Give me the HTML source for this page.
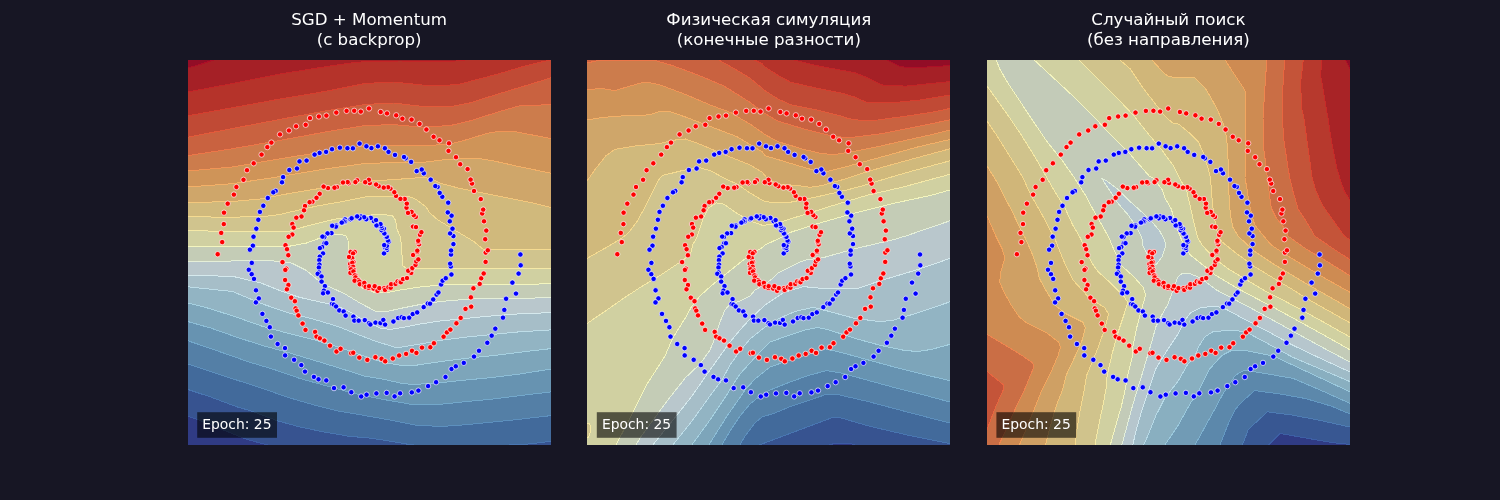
<!DOCTYPE html>
<html lang="ru"><head><meta charset="utf-8"><title>Spiral training comparison</title>
<style>html,body{margin:0;padding:0;background:#171624;overflow:hidden}svg{display:block;will-change:transform}</style></head>
<body>
<svg width="1500" height="500" viewBox="0 0 1500 500" font-family="'DejaVu Sans', 'Liberation Sans', sans-serif">
<clipPath id="c0"><rect x="188" y="60" width="363" height="385"/></clipPath>
<g clip-path="url(#c0)" shape-rendering="crispEdges">
<rect x="180" y="50" width="380" height="410" fill="#920d26"/>
<polygon points="174.6,71.9 188.0,68.0 200.0,64.5 213.5,60.0 226.8,55.6 570.0,55.6 570.0,470.0 170.0,470.0 170.0,71.9" fill="#a52026" stroke="#ae0f26" stroke-width="1.0" stroke-linejoin="round"/>
<polygon points="174.2,94.6 188.0,92.0 232.5,83.5 280.0,74.0 327.5,66.4 356.0,62.3 375.0,61.2 400.0,61.0 440.0,61.3 456.0,61.0 468.0,59.6 481.9,58.0 570.0,58.0 570.0,470.0 170.0,470.0 170.0,94.6" fill="#b5332a" stroke="#c42527" stroke-width="1.0" stroke-linejoin="round"/>
<polygon points="174.2,118.3 188.0,115.8 232.5,107.7 280.0,99.0 327.5,91.0 365.0,83.5 393.5,82.0 422.0,85.0 444.8,85.6 460.0,84.0 498.0,74.0 526.5,65.5 551.0,59.8 564.6,56.6 570.0,56.6 570.0,470.0 170.0,470.0 170.0,118.3" fill="#c04a35" stroke="#d63e2e" stroke-width="1.0" stroke-linejoin="round"/>
<polygon points="174.3,139.9 188.0,137.2 232.5,128.5 280.0,119.4 327.5,110.6 365.0,104.5 393.5,103.0 422.0,106.4 450.5,106.8 469.5,103.0 498.0,94.0 526.5,85.4 551.0,77.8 564.4,73.7 570.0,73.7 570.0,470.0 170.0,470.0 170.0,139.9" fill="#c96240" stroke="#e35a3a" stroke-width="1.0" stroke-linejoin="round"/>
<polygon points="174.2,157.7 188.0,155.6 232.5,148.7 280.0,140.4 327.5,131.6 365.0,125.5 393.5,124.6 422.0,127.2 450.5,125.5 469.5,121.0 498.0,112.0 520.8,105.4 551.0,104.8 565.0,104.5 570.0,104.5 570.0,470.0 170.0,470.0 170.0,157.7" fill="#cc7c4c" stroke="#ed7648" stroke-width="1.0" stroke-linejoin="round"/>
<polygon points="174.1,172.3 188.0,171.0 232.5,167.0 280.0,158.8 327.5,151.2 365.0,146.0 395.0,145.2 425.0,145.8 450.0,144.0 464.0,140.5 486.6,133.5 498.0,131.5 517.0,132.0 551.0,138.6 564.7,141.3 570.0,141.3 570.0,470.0 170.0,470.0 170.0,172.3" fill="#cf9458" stroke="#f19556" stroke-width="1.0" stroke-linejoin="round"/>
<polygon points="174.0,188.0 188.0,187.0 232.5,183.7 280.0,176.6 327.5,168.6 365.0,163.5 399.0,162.4 423.0,162.4 447.0,159.4 477.0,158.2 495.0,161.2 519.0,166.6 551.0,173.2 564.7,176.0 570.0,176.0 570.0,470.0 170.0,470.0 170.0,188.0" fill="#cfa66a" stroke="#f4b067" stroke-width="1.0" stroke-linejoin="round"/>
<polygon points="174.0,202.9 188.0,202.6 232.5,201.5 260.0,199.0 293.0,192.8 329.0,187.0 365.0,181.5 399.0,179.2 423.0,177.4 431.4,178.6 441.0,183.4 459.0,188.2 495.0,195.4 531.0,202.6 551.0,207.5 564.6,210.8 570.0,210.8 570.0,470.0 170.0,470.0 170.0,202.9" fill="#d0b97c" stroke="#f4c77c" stroke-width="1.0" stroke-linejoin="round"/>
<polygon points="174.0,216.7 188.0,216.8 232.5,217.2 265.0,216.4 280.0,214.5 293.0,211.4 317.0,206.0 341.0,201.8 366.0,196.8 390.0,196.0 408.0,196.0 416.4,199.6 426.0,206.8 429.6,212.8 438.0,220.0 450.0,227.2 462.0,234.4 474.0,241.6 483.7,249.7 551.0,249.7 565.0,249.7 570.0,249.7 570.0,470.0 170.0,470.0 170.0,216.7" fill="#d0c48e" stroke="#f5db91" stroke-width="1.0" stroke-linejoin="round"/>
<polygon points="174.0,230.3 188.0,230.6 232.5,231.5 270.0,231.8 287.0,231.8 299.0,228.2 317.0,223.4 335.0,219.2 353.0,216.4 365.0,215.2 384.0,214.6 392.4,215.8 395.4,220.0 397.2,229.6 400.8,238.0 401.5,249.7 403.0,265.9 406.8,268.7 551.0,268.3 565.0,268.3 570.0,268.3 570.0,470.0 170.0,470.0 170.0,230.3" fill="#d0d0a1" stroke="#f5e9a7" stroke-width="1.0" stroke-linejoin="round"/>
<polygon points="174.0,246.9 188.0,246.9 285.7,246.9 306.6,243.0 321.8,237.4 337.0,234.1 345.6,235.5 348.0,240.2 348.8,259.2 352.2,272.5 362.0,288.0 375.0,292.5 385.0,293.0 400.0,290.0 420.0,287.0 441.0,284.9 551.0,283.9 565.0,283.8 570.0,283.8 570.0,470.0 170.0,470.0 170.0,246.9" fill="#c4ccb6" stroke="#f3f5be" stroke-width="1.0" stroke-linejoin="round"/>
<polygon points="174.0,262.3 188.0,262.0 266.7,260.2 291.4,263.0 306.6,270.6 318.0,280.1 330.0,287.0 345.0,294.0 360.0,303.0 375.0,311.0 385.0,312.0 400.0,308.5 420.0,304.5 440.0,301.5 470.0,299.0 493.0,298.3 551.0,297.9 565.0,297.8 570.0,297.8 570.0,470.0 170.0,470.0 170.0,262.3" fill="#b9c7cc" stroke="#e5efd8" stroke-width="1.0" stroke-linejoin="round"/>
<polygon points="174.0,275.1 188.0,275.4 232.5,276.3 261.0,283.0 280.0,290.6 299.0,297.2 320.0,302.0 335.0,305.0 350.0,312.0 365.0,321.0 380.0,328.0 390.0,329.5 405.0,327.0 420.0,324.0 440.0,321.0 470.0,318.0 493.0,315.8 518.6,313.9 551.0,312.6 565.0,312.0 570.0,312.0 570.0,470.0 170.0,470.0 170.0,275.1" fill="#a6bec8" stroke="#d5e9ed" stroke-width="1.0" stroke-linejoin="round"/>
<polygon points="174.1,285.3 188.0,286.8 232.5,291.5 261.8,303.7 287.4,312.6 313.0,319.0 338.6,326.7 357.8,334.4 375.0,341.0 397.0,347.9 416.2,344.7 441.8,340.2 467.4,337.0 493.0,334.4 518.6,331.9 551.0,329.9 565.0,329.0 570.0,329.0 570.0,470.0 170.0,470.0 170.0,285.3" fill="#92b4c3" stroke="#bedde8" stroke-width="1.0" stroke-linejoin="round"/>
<polygon points="174.4,299.5 188.0,303.0 210.6,308.8 236.2,317.1 261.8,326.1 287.4,333.1 313.0,339.5 338.6,347.2 364.2,356.2 384.2,362.6 403.4,365.8 416.2,365.2 441.8,361.4 467.4,358.2 493.0,355.6 518.6,352.4 551.0,348.6 564.9,347.0 570.0,347.0 570.0,470.0 170.0,470.0 170.0,299.5" fill="#7da5ba" stroke="#a6d1e1" stroke-width="1.0" stroke-linejoin="round"/>
<polygon points="174.5,317.8 188.0,321.6 210.6,328.0 236.2,337.0 261.8,345.3 287.4,352.3 313.0,360.0 338.6,367.8 364.2,376.0 384.2,379.3 403.4,383.8 416.2,384.4 441.8,382.5 467.4,379.9 493.0,377.4 518.6,374.2 551.0,369.0 564.8,366.8 570.0,366.8 570.0,470.0 170.0,470.0 170.0,317.8" fill="#6793b1" stroke="#8dbed7" stroke-width="1.0" stroke-linejoin="round"/>
<polygon points="174.7,336.3 188.0,340.8 210.6,348.5 236.2,357.5 249.0,362.0 274.6,369.7 300.2,378.6 325.8,385.7 351.5,392.7 365.0,395.8 384.2,399.6 409.8,404.1 441.8,404.1 467.4,401.5 493.0,399.0 518.6,395.8 551.0,391.9 564.9,390.2 570.0,390.2 570.0,470.0 170.0,470.0 170.0,336.3" fill="#547fa6" stroke="#73a8cb" stroke-width="1.0" stroke-linejoin="round"/>
<polygon points="174.7,359.4 188.0,363.9 210.6,371.6 236.2,379.9 261.8,388.2 287.4,397.2 313.0,404.7 338.6,411.1 365.0,415.6 390.6,420.1 416.2,425.2 441.8,426.5 467.4,424.6 493.0,422.0 518.6,419.4 551.0,415.6 564.9,414.0 570.0,414.0 570.0,470.0 170.0,470.0 170.0,359.4" fill="#426a9b" stroke="#5d90be" stroke-width="1.0" stroke-linejoin="round"/>
<polygon points="174.7,385.1 188.0,389.5 210.6,397.0 236.2,406.6 251.6,411.1 277.2,420.7 300.2,427.1 325.8,432.3 351.5,436.7 365.0,437.4 390.6,441.2 411.1,444.8 460.0,448.0 512.2,444.8 531.5,443.8 551.0,441.2 564.9,439.3 570.0,439.3 570.0,470.0 170.0,470.0 170.0,385.1" fill="#375390" stroke="#4976b1" stroke-width="1.0" stroke-linejoin="round"/>
<polygon points="174.8,411.6 188.0,416.2 197.2,419.4 246.5,439.3 267.0,444.8 280.5,448.4 570.0,448.4 570.0,470.0 170.0,470.0 170.0,411.6" fill="#303b84" stroke="#3c5ba3" stroke-width="1.0" stroke-linejoin="round"/>
</g>
<clipPath id="c1"><rect x="587" y="60" width="363" height="385"/></clipPath>
<g clip-path="url(#c1)" shape-rendering="crispEdges">
<rect x="575" y="50" width="390" height="410" fill="#920d26"/>
<polygon points="874.0,53.8 886.6,60.0 900.7,66.9 918.6,67.5 950.0,65.6 964.0,64.8 965.0,64.8 965.0,470.0 570.0,470.0 570.0,45.0 874.0,45.0" fill="#a52026" stroke="#ae0f26" stroke-width="1.0" stroke-linejoin="round"/>
<polygon points="780.8,56.5 794.4,60.0 816.2,65.6 854.6,72.6 867.4,77.8 882.8,85.2 905.8,86.1 931.5,83.5 950.0,81.6 963.9,80.2 965.0,80.2 965.0,470.0 570.0,470.0 570.0,45.0 780.8,45.0" fill="#b5332a" stroke="#c42527" stroke-width="1.0" stroke-linejoin="round"/>
<polygon points="742.1,53.7 754.6,60.0 762.0,63.7 765.0,66.9 777.8,75.2 790.6,82.2 816.2,88.0 841.8,93.1 854.6,97.0 867.4,102.7 893.0,102.7 918.6,100.2 950.0,95.0 963.8,92.7 965.0,92.7 965.0,470.0 570.0,470.0 570.0,45.0 742.1,45.0" fill="#c04a35" stroke="#d63e2e" stroke-width="1.0" stroke-linejoin="round"/>
<polygon points="706.5,53.2 718.7,60.0 736.6,70.0 749.5,77.8 762.0,88.0 765.0,90.6 777.8,98.9 790.6,104.7 816.2,109.8 841.8,116.2 848.2,118.7 862.0,120.5 877.7,120.0 905.8,116.2 931.5,112.3 950.0,108.5 963.7,105.7 965.0,105.7 965.0,470.0 570.0,470.0 570.0,45.0 706.5,45.0" fill="#c96240" stroke="#e35a3a" stroke-width="1.0" stroke-linejoin="round"/>
<polygon points="573.3,66.0 587.0,63.0 596.0,61.0 602.0,60.2 655.0,60.4 672.6,65.6 698.0,75.0 724.0,86.0 749.5,102.0 765.0,113.6 777.8,121.0 803.4,128.8 829.0,135.2 841.8,137.1 854.6,137.1 880.2,133.9 905.8,128.8 931.5,123.7 950.0,119.8 963.7,116.9 965.0,116.9 965.0,470.0 570.0,470.0 570.0,66.0" fill="#cc7c4c" stroke="#ed7648" stroke-width="1.0" stroke-linejoin="round"/>
<polygon points="573.0,90.3 587.0,89.5 602.0,88.6 615.0,90.6 627.8,86.7 640.6,83.1 647.0,82.2 659.8,84.8 685.4,94.4 711.0,105.3 730.2,112.3 743.0,120.0 749.5,123.7 762.3,132.6 765.0,134.6 777.8,141.6 803.4,149.3 822.6,153.8 835.4,154.4 854.6,151.2 880.2,146.1 905.8,140.3 931.5,134.6 950.0,130.0 963.6,126.6 965.0,126.6 965.0,470.0 570.0,470.0 570.0,90.3" fill="#cf9458" stroke="#f19556" stroke-width="1.0" stroke-linejoin="round"/>
<polygon points="573.2,122.3 587.0,120.0 602.0,117.5 627.8,115.5 649.6,114.9 659.8,111.3 670.0,111.7 685.4,117.0 704.6,124.3 736.6,136.5 762.3,151.8 765.0,155.7 777.8,159.5 797.0,165.3 816.2,171.0 829.0,171.0 841.8,167.9 867.4,160.8 893.0,153.8 918.6,146.7 950.0,139.5 963.6,136.4 965.0,136.4 965.0,470.0 570.0,470.0 570.0,122.3" fill="#cfa66a" stroke="#f4b067" stroke-width="1.0" stroke-linejoin="round"/>
<polygon points="578.9,192.4 587.0,181.0 595.8,168.5 606.0,155.7 615.0,149.3 634.2,146.1 659.8,143.5 672.6,140.3 685.4,139.0 698.2,143.5 723.8,154.4 749.5,164.7 762.3,172.3 768.7,180.0 780.0,184.0 800.0,185.8 810.4,187.3 820.8,185.8 841.6,180.0 862.4,173.3 883.2,167.0 904.0,161.3 924.8,155.6 950.0,148.8 963.5,145.2 965.0,145.2 965.0,470.0 570.0,470.0 570.0,192.4" fill="#d0b97c" stroke="#f4c77c" stroke-width="1.0" stroke-linejoin="round"/>
<polygon points="574.8,265.3 587.0,258.4 608.6,246.2 618.9,240.0 627.8,233.6 636.8,222.0 644.5,208.0 650.9,195.2 657.3,182.4 658.5,180.0 662.4,175.5 685.4,169.8 698.2,167.2 711.0,171.0 727.7,180.0 736.6,183.7 749.5,192.6 762.3,200.3 765.0,201.6 777.8,202.9 790.6,202.2 816.2,197.0 846.8,190.0 862.4,185.8 883.2,179.5 904.0,173.3 924.8,167.6 950.0,160.8 963.5,157.2 965.0,157.2 965.0,470.0 570.0,470.0 570.0,265.3" fill="#d0c48e" stroke="#f5db91" stroke-width="1.0" stroke-linejoin="round"/>
<polygon points="575.4,331.4 587.0,323.5 608.6,308.8 624.0,298.0 640.6,287.2 659.8,275.7 682.9,260.3 690.5,253.9 693.1,243.7 695.7,240.0 698.2,233.6 703.4,218.3 708.5,208.0 716.2,202.9 723.8,204.2 736.6,213.1 749.5,220.8 762.3,225.3 773.0,224.4 790.6,218.9 829.0,206.7 867.4,195.2 904.0,186.8 924.8,181.1 950.0,174.3 963.5,170.7 965.0,170.7 965.0,470.0 570.0,470.0 570.0,331.4" fill="#d0d0a1" stroke="#f5e9a7" stroke-width="1.0" stroke-linejoin="round"/>
<polygon points="609.5,457.4 616.0,445.0 629.0,420.0 634.2,409.8 647.0,384.2 665.0,356.0 672.6,338.3 685.4,317.8 691.8,306.2 700.0,296.0 711.0,285.9 723.8,275.7 736.6,265.4 749.5,255.2 762.3,247.5 765.0,245.0 781.6,237.3 790.6,232.3 816.2,224.0 854.6,213.1 893.0,203.5 931.5,195.2 950.0,190.0 963.5,186.2 965.0,186.2 965.0,470.0 609.5,470.0" fill="#c4ccb6" stroke="#f3f5be" stroke-width="1.0" stroke-linejoin="round"/>
<polygon points="629.1,457.2 636.0,445.0 640.0,438.0 659.0,412.0 671.0,396.0 685.4,377.8 700.0,364.0 710.0,350.0 715.0,338.0 720.0,322.0 725.0,310.0 730.0,304.0 740.0,301.0 750.0,296.0 755.0,290.0 762.3,285.9 773.0,278.3 777.8,273.1 800.9,261.6 807.3,259.7 822.6,257.8 854.6,248.8 893.0,239.8 905.8,236.0 950.0,220.8 963.2,216.2 965.0,216.2 965.0,470.0 629.1,470.0" fill="#b9c7cc" stroke="#e5efd8" stroke-width="1.0" stroke-linejoin="round"/>
<polygon points="644.2,455.6 653.0,444.7 677.0,415.0 692.0,396.0 703.0,380.0 710.0,370.0 720.0,356.0 730.0,342.0 740.0,330.0 750.0,319.0 765.0,305.0 780.0,295.0 784.2,292.3 803.4,286.6 822.6,288.5 857.2,288.5 880.2,280.8 918.6,269.3 950.0,258.4 963.2,253.8 965.0,253.8 965.0,470.0 644.2,470.0" fill="#a6bec8" stroke="#d5e9ed" stroke-width="1.0" stroke-linejoin="round"/>
<polygon points="664.2,455.6 673.0,444.7 692.0,421.0 710.0,396.0 722.0,380.0 730.0,365.0 740.0,351.0 750.0,339.0 765.0,327.0 780.0,318.0 795.0,311.5 810.0,308.0 813.7,307.5 829.0,311.4 854.6,318.4 880.2,321.6 893.0,320.3 918.6,312.6 950.0,301.8 963.2,297.2 965.0,297.2 965.0,470.0 664.2,470.0" fill="#92b4c3" stroke="#bedde8" stroke-width="1.0" stroke-linejoin="round"/>
<polygon points="683.8,456.0 692.0,444.7 710.0,420.0 726.0,396.0 736.0,380.0 740.0,374.0 750.0,363.0 760.0,352.0 770.0,342.0 790.0,335.0 805.0,330.0 818.0,327.5 829.0,329.9 854.6,338.3 880.2,345.3 905.8,350.7 918.6,351.4 931.5,349.4 950.0,344.3 963.5,340.6 965.0,340.6 965.0,470.0 683.8,470.0" fill="#7da5ba" stroke="#a6d1e1" stroke-width="1.0" stroke-linejoin="round"/>
<polygon points="701.6,456.6 709.0,444.7 727.0,416.0 741.0,396.0 745.0,390.0 755.0,379.0 770.0,367.0 790.0,360.0 810.0,354.0 825.2,348.8 841.8,352.6 867.4,359.7 893.0,366.7 918.6,373.1 950.0,380.8 963.6,384.1 965.0,384.1 965.0,470.0 701.6,470.0" fill="#6793b1" stroke="#8dbed7" stroke-width="1.0" stroke-linejoin="round"/>
<polygon points="714.9,456.8 722.0,444.7 730.0,431.0 740.0,416.0 750.0,404.0 760.0,396.0 770.0,390.0 790.0,382.0 810.0,375.0 826.5,370.6 841.8,373.1 867.4,380.2 893.0,387.2 918.6,393.6 950.0,402.0 963.5,405.6 965.0,405.6 965.0,470.0 714.9,470.0" fill="#547fa6" stroke="#73a8cb" stroke-width="1.0" stroke-linejoin="round"/>
<polygon points="733.0,456.8 740.0,444.7 745.0,436.0 755.0,423.0 762.0,417.0 775.0,413.0 790.6,406.5 826.5,394.3 836.7,394.3 867.4,401.4 905.8,411.6 950.0,423.1 963.5,426.6 965.0,426.6 965.0,470.0 733.0,470.0" fill="#426a9b" stroke="#5d90be" stroke-width="1.0" stroke-linejoin="round"/>
<polygon points="746.9,449.6 760.0,444.7 770.0,441.0 797.0,430.8 832.9,417.4 839.3,417.4 867.4,425.7 905.8,434.7 950.0,443.6 963.7,446.4 965.0,446.4 965.0,470.0 746.9,470.0" fill="#375390" stroke="#4976b1" stroke-width="1.0" stroke-linejoin="round"/>
<polygon points="829.0,444.9 834.0,443.6 850.8,443.6 854.6,444.9 856.0,450.0 827.0,450.0" fill="#303b84" stroke="#3c5ba3" stroke-width="1.0" stroke-linejoin="round"/>
<polygon points="586.0,423.0 589.5,423.5 591.0,427.0 590.0,433.0 588.5,437.0 586.0,437.0" fill="#d0c48e" stroke="#f5e9a7" stroke-width="1.0" stroke-linejoin="round"/>
</g>
<clipPath id="c2"><rect x="987" y="60" width="363" height="385"/></clipPath>
<g clip-path="url(#c2)" shape-rendering="crispEdges">
<rect x="975" y="50" width="390" height="410" fill="#920d26"/>
<polygon points="1339.1,47.5 1345.5,60.0 1350.0,68.8 1356.4,81.3 1365.0,81.3 1365.0,470.0 970.0,470.0 970.0,45.0 1339.1,45.0" fill="#a82326" stroke="#af1026" stroke-width="1.0" stroke-linejoin="round"/>
<polygon points="1323.1,46.1 1321.9,60.0 1320.6,75.2 1325.0,100.8 1328.3,120.0 1331.5,141.6 1336.6,167.2 1339.8,178.0 1344.3,191.4 1350.0,200.3 1357.6,212.1 1365.0,212.1 1365.0,470.0 970.0,470.0 970.0,45.0 1323.1,45.0" fill="#b7392d" stroke="#c82a28" stroke-width="1.0" stroke-linejoin="round"/>
<polygon points="1305.0,46.1 1303.3,60.0 1300.7,81.6 1301.4,107.2 1303.9,118.0 1307.1,141.6 1312.2,178.0 1316.1,191.4 1322.5,205.4 1335.3,223.4 1344.3,236.0 1350.0,239.8 1361.6,247.6 1365.0,247.6 1365.0,470.0 970.0,470.0 970.0,45.0 1305.0,45.0" fill="#c45439" stroke="#da4631" stroke-width="1.0" stroke-linejoin="round"/>
<polygon points="1285.6,46.0 1284.7,60.0 1282.8,88.0 1282.2,118.0 1284.1,141.6 1287.9,167.2 1289.8,178.0 1293.0,191.4 1298.2,209.3 1305.8,220.8 1314.8,236.0 1331.5,247.5 1350.0,259.7 1361.7,267.4 1365.0,267.4 1365.0,470.0 970.0,470.0 970.0,45.0 1285.6,45.0" fill="#ca6e45" stroke="#e86640" stroke-width="1.0" stroke-linejoin="round"/>
<polygon points="1267.7,46.0 1266.8,60.0 1264.9,88.0 1263.0,118.0 1263.6,148.0 1266.2,167.2 1267.4,178.0 1268.7,188.8 1271.3,208.0 1276.4,218.3 1286.6,231.0 1287.9,236.0 1305.8,248.8 1325.0,260.3 1350.0,275.7 1361.9,283.0 1365.0,283.0 1365.0,470.0 970.0,470.0 970.0,45.0 1267.7,45.0" fill="#ce8b52" stroke="#ef854f" stroke-width="1.0" stroke-linejoin="round"/>
<polygon points="1217.7,48.2 1225.2,60.0 1231.6,70.1 1244.4,89.3 1245.7,93.1 1245.7,154.4 1245.0,178.0 1247.0,188.8 1249.5,205.4 1254.6,224.7 1263.6,236.0 1271.3,245.0 1286.6,255.2 1305.8,266.7 1325.0,278.3 1350.0,292.3 1362.2,299.1 1365.0,299.1 1365.0,470.0 970.0,470.0 970.0,45.0 1217.7,45.0" fill="#cfa064" stroke="#f3a65f" stroke-width="1.0" stroke-linejoin="round"/>
<polygon points="1142.6,49.6 1152.0,60.0 1162.3,71.4 1167.4,75.8 1172.7,77.1 1194.4,77.1 1206.0,89.3 1216.2,107.2 1221.0,118.0 1225.2,128.8 1227.7,148.0 1228.6,178.0 1229.0,195.2 1230.3,214.4 1232.9,227.2 1238.0,236.0 1254.6,251.4 1273.8,264.2 1293.0,275.7 1312.2,287.2 1329.0,296.5 1350.0,308.8 1362.1,315.9 1365.0,315.9 1365.0,470.0 970.0,470.0 970.0,45.0 1142.6,45.0" fill="#d0b679" stroke="#f4c075" stroke-width="1.0" stroke-linejoin="round"/>
<polygon points="1109.4,50.9 1120.0,60.0 1130.2,68.8 1143.0,88.0 1155.9,104.6 1164.8,116.0 1172.7,123.0 1179.0,124.3 1190.6,134.0 1198.3,141.6 1203.4,153.1 1208.5,169.8 1210.5,178.0 1211.7,195.2 1213.7,214.4 1216.2,227.2 1218.8,238.0 1222.6,242.4 1235.4,252.6 1254.6,266.7 1273.8,278.3 1293.0,289.8 1306.0,298.0 1325.0,308.8 1350.0,322.9 1362.2,329.8 1365.0,329.8 1365.0,470.0 970.0,470.0 970.0,45.0 1109.4,45.0" fill="#d0c38c" stroke="#f5d98e" stroke-width="1.0" stroke-linejoin="round"/>
<polygon points="1069.0,50.2 1079.0,60.0 1098.2,79.0 1117.4,98.3 1134.0,116.0 1149.4,135.2 1162.3,150.6 1165.0,154.4 1172.7,164.7 1179.5,178.0 1186.8,191.4 1190.6,208.0 1194.4,224.7 1197.8,238.0 1202.1,245.0 1213.7,257.8 1229.0,269.3 1248.2,280.8 1267.4,292.3 1279.0,298.0 1299.4,308.8 1325.0,322.9 1350.0,337.0 1362.2,343.9 1365.0,343.9 1365.0,470.0 970.0,470.0 970.0,45.0 1069.0,45.0" fill="#d0d0a1" stroke="#f5e9a5" stroke-width="1.0" stroke-linejoin="round"/>
<polygon points="1023.9,50.5 1034.2,60.0 1053.4,77.8 1072.6,95.7 1095.0,118.0 1111.0,135.2 1130.2,154.4 1149.4,176.2 1153.3,178.0 1162.3,190.0 1165.0,197.8 1171.4,209.3 1176.5,227.2 1180.8,238.0 1184.2,246.2 1190.6,255.2 1203.4,265.4 1216.2,275.7 1235.4,287.2 1254.6,297.5 1273.8,307.5 1299.4,321.6 1325.0,335.7 1350.0,349.8 1362.2,356.7 1365.0,356.7 1365.0,470.0 970.0,470.0 970.0,45.0 1023.9,45.0" fill="#c3cbb8" stroke="#f3f4bf" stroke-width="1.0" stroke-linejoin="round"/>
<polygon points="991.6,46.8 996.4,60.0 999.6,68.8 1008.6,84.2 1021.4,103.4 1031.0,118.0 1047.0,141.6 1062.4,160.8 1074.5,178.0 1085.4,195.2 1095.7,214.4 1104.6,229.8 1109.0,238.0 1113.6,248.8 1121.3,265.4 1134.1,277.0 1143.0,287.2 1145.6,294.9 1141.8,308.8 1136.6,328.0 1132.8,347.2 1132.0,358.0 1127.7,375.2 1125.1,390.0 1121.3,406.6 1114.9,428.4 1110.4,444.8 1106.7,458.3 1106.7,470.0 970.0,470.0 970.0,45.0 991.6,45.0" fill="#d0d0a1" stroke="#f3f4bf" stroke-width="1.0" stroke-linejoin="round"/>
<polygon points="978.9,74.6 987.0,86.0 995.8,98.3 1008.6,116.2 1021.4,135.2 1034.2,155.7 1047.0,178.0 1054.7,191.4 1065.0,208.0 1072.6,224.7 1080.3,238.0 1085.4,248.8 1091.8,262.9 1098.2,271.8 1111.0,283.4 1123.8,296.2 1127.7,302.4 1123.8,315.2 1117.4,334.4 1112.3,353.0 1107.2,375.2 1105.9,390.0 1102.1,409.2 1097.6,431.0 1095.0,444.8 1092.4,458.6 1092.4,470.0 970.0,470.0 970.0,74.6" fill="#d0c38c" stroke="#f5e9a5" stroke-width="1.0" stroke-linejoin="round"/>
<polygon points="979.2,109.4 987.0,121.0 995.8,134.0 1008.6,154.4 1022.0,176.0 1031.7,196.5 1041.9,214.4 1052.1,233.6 1054.7,238.0 1059.8,251.4 1066.2,266.7 1072.6,279.5 1082.9,291.0 1089.3,298.0 1094.4,301.1 1104.6,307.5 1108.5,313.9 1104.6,329.3 1098.2,347.2 1094.0,358.0 1086.7,375.2 1084.2,390.0 1080.3,409.2 1077.1,428.4 1075.2,444.8 1073.6,458.7 1073.6,470.0 970.0,470.0 970.0,109.4" fill="#d0b679" stroke="#f5d98e" stroke-width="1.0" stroke-linejoin="round"/>
<polygon points="979.5,154.1 987.0,166.0 995.8,180.0 1002.2,192.6 1012.4,211.9 1021.4,231.0 1025.3,238.0 1031.7,252.6 1036.8,266.7 1039.3,278.3 1047.0,292.3 1054.7,305.0 1066.2,313.9 1082.9,322.2 1085.4,328.0 1081.6,342.1 1075.2,356.0 1066.2,375.2 1062.4,390.0 1056.0,406.6 1049.6,428.4 1045.7,444.8 1042.5,458.4 1042.5,470.0 970.0,470.0 970.0,154.1" fill="#cfa064" stroke="#f4c075" stroke-width="1.0" stroke-linejoin="round"/>
<polygon points="981.4,202.9 987.0,215.7 995.8,236.0 1002.2,248.8 1004.8,257.8 1000.9,271.8 999.6,282.1 1004.8,293.6 1011.2,305.0 1018.8,316.5 1026.5,322.9 1047.0,333.1 1058.5,342.1 1060.5,347.2 1057.9,356.0 1049.6,375.2 1041.9,390.0 1034.2,409.2 1025.3,431.0 1019.5,444.8 1014.1,457.7 1014.1,470.0 970.0,470.0 970.0,202.9" fill="#ce8b52" stroke="#f3a65f" stroke-width="1.0" stroke-linejoin="round"/>
<polygon points="975.0,327.3 987.0,334.4 1002.2,343.4 1015.0,351.0 1022.7,356.0 1032.9,363.0 1033.6,367.5 1025.3,388.0 1015.0,409.5 1004.8,432.3 999.0,444.8 993.1,457.5 993.1,470.0 970.0,470.0 970.0,327.3" fill="#ca6e45" stroke="#ef854f" stroke-width="1.0" stroke-linejoin="round"/>
<polygon points="976.1,362.6 987.0,371.4 1003.5,384.8 1004.1,388.0 995.8,406.6 987.0,429.7 982.0,442.8 970.0,442.8 970.0,362.6" fill="#c45439" stroke="#e86640" stroke-width="1.0" stroke-linejoin="round"/>
<polygon points="1118.2,458.3 1121.9,444.8 1126.4,428.4 1131.5,409.2 1136.6,392.0 1141.8,375.2 1146.9,358.0 1152.0,340.8 1155.9,326.7 1162.3,313.9 1168.0,304.0 1172.7,291.0 1177.8,277.0 1181.6,273.8 1190.6,273.8 1200.9,278.3 1216.2,289.8 1232.9,298.6 1254.6,310.1 1280.2,324.2 1305.8,338.3 1331.5,352.3 1350.0,362.0 1362.4,368.5 1365.0,368.5 1365.0,470.0 1118.2,470.0" fill="#b6c6cd" stroke="#e3efda" stroke-width="1.0" stroke-linejoin="round"/>
<polygon points="1129.6,458.4 1132.8,444.8 1136.6,428.4 1143.0,406.6 1149.4,388.0 1155.9,368.8 1163.5,356.0 1170.0,346.0 1177.8,334.4 1184.2,321.6 1190.6,312.6 1200.9,307.5 1216.2,306.2 1225.2,308.8 1241.8,317.8 1267.4,331.2 1293.0,345.3 1318.6,357.5 1350.0,372.0 1362.7,377.9 1365.0,377.9 1365.0,470.0 1129.6,470.0" fill="#9fbbc7" stroke="#d1e7ee" stroke-width="1.0" stroke-linejoin="round"/>
<polygon points="1138.0,457.6 1143.7,444.8 1148.2,434.8 1155.9,415.6 1164.8,398.0 1177.8,381.6 1188.0,363.7 1194.4,358.0 1198.3,347.2 1204.7,337.0 1213.7,331.2 1236.7,330.6 1248.2,333.1 1267.4,343.4 1293.0,357.4 1350.0,381.6 1362.9,387.1 1365.0,387.1 1365.0,470.0 1138.0,470.0" fill="#89afc0" stroke="#b6d9e6" stroke-width="1.0" stroke-linejoin="round"/>
<polygon points="1157.1,456.4 1165.0,444.8 1177.8,425.9 1190.6,402.8 1197.0,394.4 1209.8,368.8 1221.3,356.0 1225.2,353.6 1231.6,350.4 1248.2,351.0 1267.4,354.9 1277.7,358.0 1350.0,391.8 1362.7,397.7 1365.0,397.7 1365.0,470.0 1157.1,470.0" fill="#719bb5" stroke="#9bc9dd" stroke-width="1.0" stroke-linejoin="round"/>
<polygon points="1188.4,457.1 1195.1,444.8 1203.4,429.7 1216.2,406.6 1222.6,394.4 1235.4,375.2 1244.4,370.1 1267.4,373.9 1293.0,378.4 1318.6,389.3 1350.0,403.4 1362.8,409.1 1365.0,409.1 1365.0,470.0 1188.4,470.0" fill="#5c88ab" stroke="#7fb2d0" stroke-width="1.0" stroke-linejoin="round"/>
<polygon points="1214.9,457.8 1220.0,444.8 1229.0,422.0 1235.4,409.2 1241.8,402.0 1254.6,390.6 1280.2,394.0 1305.8,398.6 1331.5,406.2 1350.0,414.0 1362.9,419.4 1365.0,419.4 1365.0,470.0 1214.9,470.0" fill="#476f9e" stroke="#659ac3" stroke-width="1.0" stroke-linejoin="round"/>
<polygon points="1237.6,457.9 1242.5,444.8 1248.2,429.7 1258.5,420.0 1267.4,411.8 1293.0,415.2 1318.6,420.1 1350.0,427.1 1363.7,430.1 1365.0,430.1 1365.0,470.0 1237.6,470.0" fill="#385792" stroke="#4e7cb4" stroke-width="1.0" stroke-linejoin="round"/>
<polygon points="1258.7,454.6 1268.7,444.8 1280.2,433.5 1305.8,438.0 1331.5,442.5 1350.0,444.4 1363.9,445.8 1365.0,445.8 1365.0,470.0 1258.7,470.0" fill="#303b84" stroke="#3d5fa5" stroke-width="1.0" stroke-linejoin="round"/>
<polygon points="1102.0,178.5 1103.4,181.0 1111.0,192.6 1118.7,204.2 1127.7,214.4 1136.6,227.2 1141.8,238.0 1143.0,246.2 1148.2,256.5 1155.9,264.8 1162.3,256.5 1166.1,245.0 1163.5,238.0 1159.7,231.0 1153.3,223.4 1143.0,213.1 1130.2,201.6 1117.4,188.8 1106.0,180.5" fill="#b6c6cd" stroke="#e3efda" stroke-width="1.0" stroke-linejoin="round"/>
</g>
<g stroke="#fff" stroke-width="0.69">
<g fill="#ff0000">
<circle cx="354.0" cy="252.8" r="2.69"/>
<circle cx="354.7" cy="252.0" r="2.69"/>
<circle cx="350.6" cy="252.0" r="2.69"/>
<circle cx="353.1" cy="253.4" r="2.69"/>
<circle cx="352.2" cy="258.2" r="2.69"/>
<circle cx="349.0" cy="257.0" r="2.69"/>
<circle cx="353.5" cy="262.1" r="2.69"/>
<circle cx="350.1" cy="264.0" r="2.69"/>
<circle cx="352.3" cy="262.8" r="2.69"/>
<circle cx="350.6" cy="267.5" r="2.69"/>
<circle cx="353.1" cy="266.8" r="2.69"/>
<circle cx="353.9" cy="269.9" r="2.69"/>
<circle cx="351.0" cy="269.3" r="2.69"/>
<circle cx="350.4" cy="272.9" r="2.69"/>
<circle cx="353.4" cy="271.4" r="2.69"/>
<circle cx="355.8" cy="275.5" r="2.69"/>
<circle cx="354.8" cy="275.4" r="2.69"/>
<circle cx="355.5" cy="277.4" r="2.69"/>
<circle cx="358.4" cy="280.1" r="2.69"/>
<circle cx="354.6" cy="280.7" r="2.69"/>
<circle cx="359.4" cy="281.6" r="2.69"/>
<circle cx="359.8" cy="284.2" r="2.69"/>
<circle cx="364.2" cy="285.4" r="2.69"/>
<circle cx="364.3" cy="282.9" r="2.69"/>
<circle cx="365.6" cy="286.9" r="2.69"/>
<circle cx="368.8" cy="287.9" r="2.69"/>
<circle cx="369.1" cy="286.2" r="2.69"/>
<circle cx="373.6" cy="288.6" r="2.69"/>
<circle cx="374.7" cy="286.2" r="2.69"/>
<circle cx="377.5" cy="290.8" r="2.69"/>
<circle cx="379.3" cy="288.1" r="2.69"/>
<circle cx="384.2" cy="288.2" r="2.69"/>
<circle cx="385.0" cy="289.9" r="2.69"/>
<circle cx="388.4" cy="287.3" r="2.69"/>
<circle cx="390.7" cy="287.7" r="2.69"/>
<circle cx="391.1" cy="284.2" r="2.69"/>
<circle cx="395.6" cy="283.9" r="2.69"/>
<circle cx="397.6" cy="281.4" r="2.69"/>
<circle cx="399.8" cy="281.8" r="2.69"/>
<circle cx="400.9" cy="282.2" r="2.69"/>
<circle cx="403.0" cy="279.1" r="2.69"/>
<circle cx="407.0" cy="278.1" r="2.69"/>
<circle cx="411.2" cy="272.9" r="2.69"/>
<circle cx="408.2" cy="270.8" r="2.69"/>
<circle cx="412.1" cy="269.0" r="2.69"/>
<circle cx="412.3" cy="268.0" r="2.69"/>
<circle cx="415.5" cy="264.9" r="2.69"/>
<circle cx="416.3" cy="261.4" r="2.69"/>
<circle cx="418.3" cy="259.4" r="2.69"/>
<circle cx="413.1" cy="255.0" r="2.69"/>
<circle cx="417.3" cy="251.9" r="2.69"/>
<circle cx="417.3" cy="250.7" r="2.69"/>
<circle cx="419.0" cy="244.3" r="2.69"/>
<circle cx="418.1" cy="242.0" r="2.69"/>
<circle cx="418.2" cy="240.8" r="2.69"/>
<circle cx="420.0" cy="234.8" r="2.69"/>
<circle cx="421.4" cy="232.2" r="2.69"/>
<circle cx="413.0" cy="226.6" r="2.69"/>
<circle cx="416.0" cy="227.1" r="2.69"/>
<circle cx="415.8" cy="216.9" r="2.69"/>
<circle cx="413.8" cy="215.2" r="2.69"/>
<circle cx="411.6" cy="211.9" r="2.69"/>
<circle cx="408.0" cy="212.9" r="2.69"/>
<circle cx="406.5" cy="207.7" r="2.69"/>
<circle cx="406.8" cy="203.6" r="2.69"/>
<circle cx="404.8" cy="199.0" r="2.69"/>
<circle cx="400.4" cy="198.9" r="2.69"/>
<circle cx="396.0" cy="195.9" r="2.69"/>
<circle cx="394.3" cy="192.2" r="2.69"/>
<circle cx="390.4" cy="188.6" r="2.69"/>
<circle cx="388.1" cy="187.2" r="2.69"/>
<circle cx="383.7" cy="187.6" r="2.69"/>
<circle cx="378.7" cy="186.2" r="2.69"/>
<circle cx="376.1" cy="184.5" r="2.69"/>
<circle cx="369.8" cy="183.1" r="2.69"/>
<circle cx="368.9" cy="179.8" r="2.69"/>
<circle cx="365.2" cy="182.2" r="2.69"/>
<circle cx="357.2" cy="180.3" r="2.69"/>
<circle cx="355.4" cy="182.1" r="2.69"/>
<circle cx="348.7" cy="183.2" r="2.69"/>
<circle cx="347.7" cy="182.1" r="2.69"/>
<circle cx="343.0" cy="182.5" r="2.69"/>
<circle cx="336.9" cy="187.1" r="2.69"/>
<circle cx="334.5" cy="187.7" r="2.69"/>
<circle cx="328.0" cy="188.1" r="2.69"/>
<circle cx="323.6" cy="186.6" r="2.69"/>
<circle cx="319.7" cy="193.8" r="2.69"/>
<circle cx="316.5" cy="197.8" r="2.69"/>
<circle cx="312.4" cy="201.7" r="2.69"/>
<circle cx="309.6" cy="202.2" r="2.69"/>
<circle cx="305.0" cy="206.0" r="2.69"/>
<circle cx="304.0" cy="210.3" r="2.69"/>
<circle cx="301.5" cy="216.5" r="2.69"/>
<circle cx="296.3" cy="217.7" r="2.69"/>
<circle cx="292.3" cy="224.0" r="2.69"/>
<circle cx="293.6" cy="227.6" r="2.69"/>
<circle cx="292.3" cy="234.5" r="2.69"/>
<circle cx="288.6" cy="236.8" r="2.69"/>
<circle cx="285.5" cy="245.2" r="2.69"/>
<circle cx="287.0" cy="249.2" r="2.69"/>
<circle cx="288.3" cy="255.2" r="2.69"/>
<circle cx="282.5" cy="262.1" r="2.69"/>
<circle cx="286.3" cy="268.7" r="2.69"/>
<circle cx="285.3" cy="269.9" r="2.69"/>
<circle cx="285.1" cy="280.0" r="2.69"/>
<circle cx="288.4" cy="285.0" r="2.69"/>
<circle cx="286.9" cy="289.3" r="2.69"/>
<circle cx="291.2" cy="297.7" r="2.69"/>
<circle cx="294.9" cy="301.2" r="2.69"/>
<circle cx="295.6" cy="308.4" r="2.69"/>
<circle cx="296.7" cy="310.7" r="2.69"/>
<circle cx="298.4" cy="315.4" r="2.69"/>
<circle cx="302.6" cy="323.6" r="2.69"/>
<circle cx="305.5" cy="329.9" r="2.69"/>
<circle cx="315.1" cy="331.9" r="2.69"/>
<circle cx="316.5" cy="336.6" r="2.69"/>
<circle cx="319.9" cy="338.3" r="2.69"/>
<circle cx="324.4" cy="340.6" r="2.69"/>
<circle cx="330.0" cy="345.7" r="2.69"/>
<circle cx="336.5" cy="351.5" r="2.69"/>
<circle cx="340.6" cy="348.8" r="2.69"/>
<circle cx="351.2" cy="353.2" r="2.69"/>
<circle cx="353.2" cy="352.8" r="2.69"/>
<circle cx="359.3" cy="357.6" r="2.69"/>
<circle cx="367.3" cy="359.9" r="2.69"/>
<circle cx="375.4" cy="357.2" r="2.69"/>
<circle cx="381.6" cy="358.8" r="2.69"/>
<circle cx="385.2" cy="361.3" r="2.69"/>
<circle cx="392.8" cy="358.5" r="2.69"/>
<circle cx="399.1" cy="355.5" r="2.69"/>
<circle cx="406.1" cy="353.9" r="2.69"/>
<circle cx="412.0" cy="350.8" r="2.69"/>
<circle cx="416.4" cy="352.9" r="2.69"/>
<circle cx="422.0" cy="347.6" r="2.69"/>
<circle cx="430.3" cy="347.2" r="2.69"/>
<circle cx="433.9" cy="343.2" r="2.69"/>
<circle cx="443.6" cy="336.7" r="2.69"/>
<circle cx="446.9" cy="332.4" r="2.69"/>
<circle cx="450.4" cy="329.6" r="2.69"/>
<circle cx="456.4" cy="323.3" r="2.69"/>
<circle cx="460.7" cy="317.9" r="2.69"/>
<circle cx="465.5" cy="308.9" r="2.69"/>
<circle cx="471.2" cy="306.7" r="2.69"/>
<circle cx="470.9" cy="297.3" r="2.69"/>
<circle cx="473.4" cy="288.3" r="2.69"/>
<circle cx="479.7" cy="283.9" r="2.69"/>
<circle cx="481.2" cy="278.3" r="2.69"/>
<circle cx="483.7" cy="273.5" r="2.69"/>
<circle cx="485.6" cy="261.9" r="2.69"/>
<circle cx="485.7" cy="252.6" r="2.69"/>
<circle cx="487.8" cy="250.3" r="2.69"/>
<circle cx="485.2" cy="239.2" r="2.69"/>
<circle cx="486.3" cy="230.6" r="2.69"/>
<circle cx="484.0" cy="221.3" r="2.69"/>
<circle cx="482.2" cy="213.5" r="2.69"/>
<circle cx="483.2" cy="209.6" r="2.69"/>
<circle cx="480.8" cy="199.1" r="2.69"/>
<circle cx="474.0" cy="191.0" r="2.69"/>
<circle cx="472.0" cy="183.6" r="2.69"/>
<circle cx="470.6" cy="179.6" r="2.69"/>
<circle cx="467.6" cy="169.1" r="2.69"/>
<circle cx="460.2" cy="164.2" r="2.69"/>
<circle cx="456.0" cy="157.2" r="2.69"/>
<circle cx="448.5" cy="150.9" r="2.69"/>
<circle cx="449.0" cy="143.3" r="2.69"/>
<circle cx="439.5" cy="140.3" r="2.69"/>
<circle cx="433.6" cy="136.8" r="2.69"/>
<circle cx="426.4" cy="129.5" r="2.69"/>
<circle cx="419.6" cy="123.9" r="2.69"/>
<circle cx="411.6" cy="119.6" r="2.69"/>
<circle cx="402.4" cy="118.7" r="2.69"/>
<circle cx="396.2" cy="115.3" r="2.69"/>
<circle cx="387.0" cy="113.4" r="2.69"/>
<circle cx="380.7" cy="112.0" r="2.69"/>
<circle cx="369.0" cy="108.5" r="2.69"/>
<circle cx="360.8" cy="111.6" r="2.69"/>
<circle cx="354.2" cy="110.8" r="2.69"/>
<circle cx="346.6" cy="110.9" r="2.69"/>
<circle cx="336.3" cy="112.6" r="2.69"/>
<circle cx="326.4" cy="115.6" r="2.69"/>
<circle cx="318.9" cy="116.5" r="2.69"/>
<circle cx="310.0" cy="118.1" r="2.69"/>
<circle cx="305.7" cy="124.8" r="2.69"/>
<circle cx="296.1" cy="126.3" r="2.69"/>
<circle cx="289.0" cy="130.5" r="2.69"/>
<circle cx="280.0" cy="134.4" r="2.69"/>
<circle cx="271.4" cy="142.6" r="2.69"/>
<circle cx="267.3" cy="147.1" r="2.69"/>
<circle cx="261.6" cy="154.6" r="2.69"/>
<circle cx="253.7" cy="163.3" r="2.69"/>
<circle cx="247.0" cy="170.2" r="2.69"/>
<circle cx="243.5" cy="179.8" r="2.69"/>
<circle cx="236.4" cy="187.0" r="2.69"/>
<circle cx="233.9" cy="194.6" r="2.69"/>
<circle cx="227.7" cy="203.7" r="2.69"/>
<circle cx="224.0" cy="212.7" r="2.69"/>
<circle cx="223.8" cy="224.1" r="2.69"/>
<circle cx="221.2" cy="232.9" r="2.69"/>
<circle cx="222.2" cy="242.1" r="2.69"/>
<circle cx="217.7" cy="254.2" r="2.69"/>
</g><g fill="#0000ff">
<circle cx="386.8" cy="250.1" r="2.69"/>
<circle cx="384.0" cy="253.4" r="2.69"/>
<circle cx="385.4" cy="248.3" r="2.69"/>
<circle cx="386.5" cy="247.2" r="2.69"/>
<circle cx="385.0" cy="247.5" r="2.69"/>
<circle cx="386.7" cy="248.0" r="2.69"/>
<circle cx="386.9" cy="245.8" r="2.69"/>
<circle cx="384.2" cy="245.1" r="2.69"/>
<circle cx="388.7" cy="241.6" r="2.69"/>
<circle cx="387.9" cy="240.5" r="2.69"/>
<circle cx="385.8" cy="237.3" r="2.69"/>
<circle cx="386.2" cy="237.0" r="2.69"/>
<circle cx="386.8" cy="236.8" r="2.69"/>
<circle cx="385.0" cy="233.8" r="2.69"/>
<circle cx="384.3" cy="233.4" r="2.69"/>
<circle cx="381.6" cy="230.2" r="2.69"/>
<circle cx="383.8" cy="228.6" r="2.69"/>
<circle cx="382.0" cy="228.1" r="2.69"/>
<circle cx="381.1" cy="226.2" r="2.69"/>
<circle cx="376.8" cy="226.1" r="2.69"/>
<circle cx="380.5" cy="224.1" r="2.69"/>
<circle cx="376.5" cy="225.4" r="2.69"/>
<circle cx="373.9" cy="221.1" r="2.69"/>
<circle cx="376.0" cy="220.1" r="2.69"/>
<circle cx="370.8" cy="217.9" r="2.69"/>
<circle cx="366.6" cy="218.8" r="2.69"/>
<circle cx="366.2" cy="219.2" r="2.69"/>
<circle cx="361.0" cy="216.5" r="2.69"/>
<circle cx="364.1" cy="217.2" r="2.69"/>
<circle cx="359.5" cy="218.3" r="2.69"/>
<circle cx="356.7" cy="216.9" r="2.69"/>
<circle cx="357.2" cy="216.4" r="2.69"/>
<circle cx="350.5" cy="219.2" r="2.69"/>
<circle cx="351.6" cy="218.3" r="2.69"/>
<circle cx="345.0" cy="219.4" r="2.69"/>
<circle cx="344.9" cy="221.6" r="2.69"/>
<circle cx="341.6" cy="222.6" r="2.69"/>
<circle cx="343.6" cy="221.5" r="2.69"/>
<circle cx="341.8" cy="222.6" r="2.69"/>
<circle cx="336.2" cy="225.5" r="2.69"/>
<circle cx="335.9" cy="226.7" r="2.69"/>
<circle cx="332.2" cy="225.8" r="2.69"/>
<circle cx="331.5" cy="233.1" r="2.69"/>
<circle cx="327.5" cy="233.4" r="2.69"/>
<circle cx="324.3" cy="237.0" r="2.69"/>
<circle cx="322.5" cy="236.6" r="2.69"/>
<circle cx="324.6" cy="243.3" r="2.69"/>
<circle cx="326.3" cy="243.2" r="2.69"/>
<circle cx="322.1" cy="247.0" r="2.69"/>
<circle cx="319.9" cy="248.1" r="2.69"/>
<circle cx="323.0" cy="253.4" r="2.69"/>
<circle cx="319.8" cy="256.6" r="2.69"/>
<circle cx="319.3" cy="260.1" r="2.69"/>
<circle cx="319.4" cy="264.6" r="2.69"/>
<circle cx="318.9" cy="267.5" r="2.69"/>
<circle cx="318.9" cy="272.5" r="2.69"/>
<circle cx="317.7" cy="273.8" r="2.69"/>
<circle cx="321.5" cy="276.5" r="2.69"/>
<circle cx="321.6" cy="281.6" r="2.69"/>
<circle cx="324.9" cy="286.1" r="2.69"/>
<circle cx="323.9" cy="290.6" r="2.69"/>
<circle cx="323.1" cy="293.3" r="2.69"/>
<circle cx="327.9" cy="292.5" r="2.69"/>
<circle cx="333.0" cy="299.1" r="2.69"/>
<circle cx="332.0" cy="303.9" r="2.69"/>
<circle cx="333.8" cy="304.6" r="2.69"/>
<circle cx="336.1" cy="306.5" r="2.69"/>
<circle cx="339.3" cy="310.4" r="2.69"/>
<circle cx="343.7" cy="311.5" r="2.69"/>
<circle cx="345.6" cy="315.6" r="2.69"/>
<circle cx="353.4" cy="316.6" r="2.69"/>
<circle cx="354.3" cy="320.6" r="2.69"/>
<circle cx="358.7" cy="320.7" r="2.69"/>
<circle cx="364.8" cy="320.1" r="2.69"/>
<circle cx="369.0" cy="323.2" r="2.69"/>
<circle cx="370.4" cy="324.5" r="2.69"/>
<circle cx="375.5" cy="322.6" r="2.69"/>
<circle cx="380.4" cy="323.0" r="2.69"/>
<circle cx="383.3" cy="319.9" r="2.69"/>
<circle cx="385.1" cy="324.6" r="2.69"/>
<circle cx="393.4" cy="321.5" r="2.69"/>
<circle cx="398.1" cy="318.0" r="2.69"/>
<circle cx="401.7" cy="317.3" r="2.69"/>
<circle cx="403.9" cy="318.1" r="2.69"/>
<circle cx="409.2" cy="317.7" r="2.69"/>
<circle cx="412.7" cy="314.1" r="2.69"/>
<circle cx="417.2" cy="312.4" r="2.69"/>
<circle cx="423.7" cy="307.1" r="2.69"/>
<circle cx="427.8" cy="303.5" r="2.69"/>
<circle cx="430.0" cy="303.7" r="2.69"/>
<circle cx="433.2" cy="299.4" r="2.69"/>
<circle cx="436.6" cy="294.6" r="2.69"/>
<circle cx="438.4" cy="292.5" r="2.69"/>
<circle cx="441.1" cy="284.5" r="2.69"/>
<circle cx="442.6" cy="280.7" r="2.69"/>
<circle cx="445.8" cy="278.2" r="2.69"/>
<circle cx="451.4" cy="274.5" r="2.69"/>
<circle cx="450.8" cy="266.4" r="2.69"/>
<circle cx="450.2" cy="263.7" r="2.69"/>
<circle cx="451.0" cy="254.6" r="2.69"/>
<circle cx="451.1" cy="250.5" r="2.69"/>
<circle cx="453.4" cy="244.1" r="2.69"/>
<circle cx="453.4" cy="236.1" r="2.69"/>
<circle cx="450.1" cy="233.4" r="2.69"/>
<circle cx="452.5" cy="228.7" r="2.69"/>
<circle cx="449.8" cy="221.3" r="2.69"/>
<circle cx="451.6" cy="215.7" r="2.69"/>
<circle cx="447.8" cy="212.4" r="2.69"/>
<circle cx="448.2" cy="202.7" r="2.69"/>
<circle cx="442.3" cy="196.8" r="2.69"/>
<circle cx="439.7" cy="192.9" r="2.69"/>
<circle cx="437.6" cy="186.9" r="2.69"/>
<circle cx="435.3" cy="186.1" r="2.69"/>
<circle cx="430.7" cy="179.7" r="2.69"/>
<circle cx="423.8" cy="173.3" r="2.69"/>
<circle cx="421.7" cy="169.5" r="2.69"/>
<circle cx="416.7" cy="171.1" r="2.69"/>
<circle cx="411.1" cy="161.9" r="2.69"/>
<circle cx="405.6" cy="158.3" r="2.69"/>
<circle cx="404.0" cy="157.0" r="2.69"/>
<circle cx="395.0" cy="154.9" r="2.69"/>
<circle cx="388.5" cy="151.9" r="2.69"/>
<circle cx="384.9" cy="148.2" r="2.69"/>
<circle cx="377.9" cy="146.3" r="2.69"/>
<circle cx="371.4" cy="148.1" r="2.69"/>
<circle cx="366.4" cy="146.3" r="2.69"/>
<circle cx="359.6" cy="143.6" r="2.69"/>
<circle cx="352.9" cy="148.3" r="2.69"/>
<circle cx="347.4" cy="148.2" r="2.69"/>
<circle cx="339.9" cy="147.7" r="2.69"/>
<circle cx="332.0" cy="149.2" r="2.69"/>
<circle cx="326.1" cy="151.9" r="2.69"/>
<circle cx="319.6" cy="152.9" r="2.69"/>
<circle cx="314.6" cy="154.6" r="2.69"/>
<circle cx="306.6" cy="160.6" r="2.69"/>
<circle cx="299.5" cy="161.4" r="2.69"/>
<circle cx="297.0" cy="168.5" r="2.69"/>
<circle cx="289.3" cy="170.0" r="2.69"/>
<circle cx="283.1" cy="177.1" r="2.69"/>
<circle cx="282.0" cy="182.3" r="2.69"/>
<circle cx="275.7" cy="191.0" r="2.69"/>
<circle cx="273.3" cy="192.3" r="2.69"/>
<circle cx="267.8" cy="198.0" r="2.69"/>
<circle cx="263.3" cy="205.8" r="2.69"/>
<circle cx="259.9" cy="211.9" r="2.69"/>
<circle cx="258.3" cy="219.8" r="2.69"/>
<circle cx="256.3" cy="228.7" r="2.69"/>
<circle cx="253.5" cy="236.7" r="2.69"/>
<circle cx="252.9" cy="245.7" r="2.69"/>
<circle cx="249.9" cy="249.7" r="2.69"/>
<circle cx="251.8" cy="262.9" r="2.69"/>
<circle cx="248.8" cy="269.8" r="2.69"/>
<circle cx="251.7" cy="274.2" r="2.69"/>
<circle cx="254.0" cy="278.9" r="2.69"/>
<circle cx="256.0" cy="290.3" r="2.69"/>
<circle cx="258.8" cy="298.4" r="2.69"/>
<circle cx="255.9" cy="302.4" r="2.69"/>
<circle cx="262.4" cy="313.9" r="2.69"/>
<circle cx="266.4" cy="320.9" r="2.69"/>
<circle cx="269.8" cy="327.2" r="2.69"/>
<circle cx="270.9" cy="336.6" r="2.69"/>
<circle cx="277.6" cy="344.0" r="2.69"/>
<circle cx="285.0" cy="348.1" r="2.69"/>
<circle cx="285.1" cy="355.4" r="2.69"/>
<circle cx="294.1" cy="359.8" r="2.69"/>
<circle cx="301.3" cy="365.1" r="2.69"/>
<circle cx="305.0" cy="371.6" r="2.69"/>
<circle cx="313.9" cy="376.9" r="2.69"/>
<circle cx="318.5" cy="379.3" r="2.69"/>
<circle cx="326.3" cy="380.4" r="2.69"/>
<circle cx="334.0" cy="388.1" r="2.69"/>
<circle cx="343.6" cy="387.3" r="2.69"/>
<circle cx="351.3" cy="392.2" r="2.69"/>
<circle cx="361.2" cy="396.5" r="2.69"/>
<circle cx="366.6" cy="394.7" r="2.69"/>
<circle cx="376.4" cy="393.4" r="2.69"/>
<circle cx="386.7" cy="392.9" r="2.69"/>
<circle cx="394.6" cy="396.4" r="2.69"/>
<circle cx="400.1" cy="393.3" r="2.69"/>
<circle cx="411.8" cy="392.4" r="2.69"/>
<circle cx="418.4" cy="390.6" r="2.69"/>
<circle cx="428.1" cy="386.1" r="2.69"/>
<circle cx="436.1" cy="382.2" r="2.69"/>
<circle cx="445.5" cy="377.0" r="2.69"/>
<circle cx="451.5" cy="369.0" r="2.69"/>
<circle cx="455.8" cy="366.3" r="2.69"/>
<circle cx="463.8" cy="362.9" r="2.69"/>
<circle cx="474.0" cy="356.6" r="2.69"/>
<circle cx="479.0" cy="350.8" r="2.69"/>
<circle cx="487.3" cy="342.8" r="2.69"/>
<circle cx="491.7" cy="335.7" r="2.69"/>
<circle cx="495.3" cy="328.7" r="2.69"/>
<circle cx="503.0" cy="317.7" r="2.69"/>
<circle cx="504.3" cy="309.9" r="2.69"/>
<circle cx="506.1" cy="298.8" r="2.69"/>
<circle cx="516.0" cy="293.6" r="2.69"/>
<circle cx="512.4" cy="282.6" r="2.69"/>
<circle cx="518.6" cy="273.6" r="2.69"/>
<circle cx="520.7" cy="265.3" r="2.69"/>
<circle cx="520.4" cy="254.5" r="2.69"/>
</g></g>
<g stroke="#fff" stroke-width="0.69">
<g fill="#ff0000">
<circle cx="753.7" cy="252.8" r="2.69"/>
<circle cx="754.4" cy="252.0" r="2.69"/>
<circle cx="750.2" cy="252.0" r="2.69"/>
<circle cx="752.7" cy="253.4" r="2.69"/>
<circle cx="751.8" cy="258.2" r="2.69"/>
<circle cx="748.7" cy="257.0" r="2.69"/>
<circle cx="753.1" cy="262.1" r="2.69"/>
<circle cx="749.7" cy="264.0" r="2.69"/>
<circle cx="751.9" cy="262.8" r="2.69"/>
<circle cx="750.3" cy="267.5" r="2.69"/>
<circle cx="752.7" cy="266.8" r="2.69"/>
<circle cx="753.5" cy="269.9" r="2.69"/>
<circle cx="750.6" cy="269.3" r="2.69"/>
<circle cx="750.0" cy="272.9" r="2.69"/>
<circle cx="753.0" cy="271.4" r="2.69"/>
<circle cx="755.4" cy="275.5" r="2.69"/>
<circle cx="754.4" cy="275.4" r="2.69"/>
<circle cx="755.1" cy="277.4" r="2.69"/>
<circle cx="758.0" cy="280.1" r="2.69"/>
<circle cx="754.2" cy="280.7" r="2.69"/>
<circle cx="759.0" cy="281.6" r="2.69"/>
<circle cx="759.4" cy="284.2" r="2.69"/>
<circle cx="763.8" cy="285.4" r="2.69"/>
<circle cx="763.9" cy="282.9" r="2.69"/>
<circle cx="765.2" cy="286.9" r="2.69"/>
<circle cx="768.4" cy="287.9" r="2.69"/>
<circle cx="768.7" cy="286.2" r="2.69"/>
<circle cx="773.2" cy="288.6" r="2.69"/>
<circle cx="774.4" cy="286.2" r="2.69"/>
<circle cx="777.1" cy="290.8" r="2.69"/>
<circle cx="778.9" cy="288.1" r="2.69"/>
<circle cx="783.9" cy="288.2" r="2.69"/>
<circle cx="784.6" cy="289.9" r="2.69"/>
<circle cx="788.0" cy="287.3" r="2.69"/>
<circle cx="790.4" cy="287.7" r="2.69"/>
<circle cx="790.7" cy="284.2" r="2.69"/>
<circle cx="795.3" cy="283.9" r="2.69"/>
<circle cx="797.2" cy="281.4" r="2.69"/>
<circle cx="799.5" cy="281.8" r="2.69"/>
<circle cx="800.5" cy="282.2" r="2.69"/>
<circle cx="802.6" cy="279.1" r="2.69"/>
<circle cx="806.6" cy="278.1" r="2.69"/>
<circle cx="810.8" cy="272.9" r="2.69"/>
<circle cx="807.8" cy="270.8" r="2.69"/>
<circle cx="811.7" cy="269.0" r="2.69"/>
<circle cx="811.9" cy="268.0" r="2.69"/>
<circle cx="815.1" cy="264.9" r="2.69"/>
<circle cx="815.9" cy="261.4" r="2.69"/>
<circle cx="818.0" cy="259.4" r="2.69"/>
<circle cx="812.7" cy="255.0" r="2.69"/>
<circle cx="817.0" cy="251.9" r="2.69"/>
<circle cx="816.9" cy="250.7" r="2.69"/>
<circle cx="818.6" cy="244.3" r="2.69"/>
<circle cx="817.7" cy="242.0" r="2.69"/>
<circle cx="817.8" cy="240.8" r="2.69"/>
<circle cx="819.6" cy="234.8" r="2.69"/>
<circle cx="821.0" cy="232.2" r="2.69"/>
<circle cx="812.6" cy="226.6" r="2.69"/>
<circle cx="815.6" cy="227.1" r="2.69"/>
<circle cx="815.4" cy="216.9" r="2.69"/>
<circle cx="813.4" cy="215.2" r="2.69"/>
<circle cx="811.2" cy="211.9" r="2.69"/>
<circle cx="807.6" cy="212.9" r="2.69"/>
<circle cx="806.1" cy="207.7" r="2.69"/>
<circle cx="806.4" cy="203.6" r="2.69"/>
<circle cx="804.4" cy="199.0" r="2.69"/>
<circle cx="800.0" cy="198.9" r="2.69"/>
<circle cx="795.6" cy="195.9" r="2.69"/>
<circle cx="793.9" cy="192.2" r="2.69"/>
<circle cx="790.0" cy="188.6" r="2.69"/>
<circle cx="787.7" cy="187.2" r="2.69"/>
<circle cx="783.4" cy="187.6" r="2.69"/>
<circle cx="778.3" cy="186.2" r="2.69"/>
<circle cx="775.7" cy="184.5" r="2.69"/>
<circle cx="769.5" cy="183.1" r="2.69"/>
<circle cx="768.5" cy="179.8" r="2.69"/>
<circle cx="764.8" cy="182.2" r="2.69"/>
<circle cx="756.8" cy="180.3" r="2.69"/>
<circle cx="755.0" cy="182.1" r="2.69"/>
<circle cx="748.3" cy="183.2" r="2.69"/>
<circle cx="747.3" cy="182.1" r="2.69"/>
<circle cx="742.6" cy="182.5" r="2.69"/>
<circle cx="736.5" cy="187.1" r="2.69"/>
<circle cx="734.2" cy="187.7" r="2.69"/>
<circle cx="727.7" cy="188.1" r="2.69"/>
<circle cx="723.2" cy="186.6" r="2.69"/>
<circle cx="719.3" cy="193.8" r="2.69"/>
<circle cx="716.1" cy="197.8" r="2.69"/>
<circle cx="712.0" cy="201.7" r="2.69"/>
<circle cx="709.2" cy="202.2" r="2.69"/>
<circle cx="704.6" cy="206.0" r="2.69"/>
<circle cx="703.6" cy="210.3" r="2.69"/>
<circle cx="701.1" cy="216.5" r="2.69"/>
<circle cx="695.9" cy="217.7" r="2.69"/>
<circle cx="692.0" cy="224.0" r="2.69"/>
<circle cx="693.2" cy="227.6" r="2.69"/>
<circle cx="691.9" cy="234.5" r="2.69"/>
<circle cx="688.2" cy="236.8" r="2.69"/>
<circle cx="685.1" cy="245.2" r="2.69"/>
<circle cx="686.6" cy="249.2" r="2.69"/>
<circle cx="687.9" cy="255.2" r="2.69"/>
<circle cx="682.1" cy="262.1" r="2.69"/>
<circle cx="685.9" cy="268.7" r="2.69"/>
<circle cx="684.9" cy="269.9" r="2.69"/>
<circle cx="684.8" cy="280.0" r="2.69"/>
<circle cx="688.0" cy="285.0" r="2.69"/>
<circle cx="686.5" cy="289.3" r="2.69"/>
<circle cx="690.8" cy="297.7" r="2.69"/>
<circle cx="694.5" cy="301.2" r="2.69"/>
<circle cx="695.2" cy="308.4" r="2.69"/>
<circle cx="696.3" cy="310.7" r="2.69"/>
<circle cx="698.0" cy="315.4" r="2.69"/>
<circle cx="702.2" cy="323.6" r="2.69"/>
<circle cx="705.1" cy="329.9" r="2.69"/>
<circle cx="714.7" cy="331.9" r="2.69"/>
<circle cx="716.1" cy="336.6" r="2.69"/>
<circle cx="719.5" cy="338.3" r="2.69"/>
<circle cx="724.0" cy="340.6" r="2.69"/>
<circle cx="729.6" cy="345.7" r="2.69"/>
<circle cx="736.1" cy="351.5" r="2.69"/>
<circle cx="740.2" cy="348.8" r="2.69"/>
<circle cx="750.8" cy="353.2" r="2.69"/>
<circle cx="752.9" cy="352.8" r="2.69"/>
<circle cx="758.9" cy="357.6" r="2.69"/>
<circle cx="766.9" cy="359.9" r="2.69"/>
<circle cx="775.0" cy="357.2" r="2.69"/>
<circle cx="781.2" cy="358.8" r="2.69"/>
<circle cx="784.8" cy="361.3" r="2.69"/>
<circle cx="792.4" cy="358.5" r="2.69"/>
<circle cx="798.7" cy="355.5" r="2.69"/>
<circle cx="805.7" cy="353.9" r="2.69"/>
<circle cx="811.6" cy="350.8" r="2.69"/>
<circle cx="816.0" cy="352.9" r="2.69"/>
<circle cx="821.6" cy="347.6" r="2.69"/>
<circle cx="829.9" cy="347.2" r="2.69"/>
<circle cx="833.5" cy="343.2" r="2.69"/>
<circle cx="843.2" cy="336.7" r="2.69"/>
<circle cx="846.5" cy="332.4" r="2.69"/>
<circle cx="850.0" cy="329.6" r="2.69"/>
<circle cx="856.0" cy="323.3" r="2.69"/>
<circle cx="860.3" cy="317.9" r="2.69"/>
<circle cx="865.1" cy="308.9" r="2.69"/>
<circle cx="870.8" cy="306.7" r="2.69"/>
<circle cx="870.5" cy="297.3" r="2.69"/>
<circle cx="873.0" cy="288.3" r="2.69"/>
<circle cx="879.3" cy="283.9" r="2.69"/>
<circle cx="880.8" cy="278.3" r="2.69"/>
<circle cx="883.3" cy="273.5" r="2.69"/>
<circle cx="885.2" cy="261.9" r="2.69"/>
<circle cx="885.3" cy="252.6" r="2.69"/>
<circle cx="887.4" cy="250.3" r="2.69"/>
<circle cx="884.8" cy="239.2" r="2.69"/>
<circle cx="885.9" cy="230.6" r="2.69"/>
<circle cx="883.6" cy="221.3" r="2.69"/>
<circle cx="881.8" cy="213.5" r="2.69"/>
<circle cx="882.8" cy="209.6" r="2.69"/>
<circle cx="880.4" cy="199.1" r="2.69"/>
<circle cx="873.6" cy="191.0" r="2.69"/>
<circle cx="871.6" cy="183.6" r="2.69"/>
<circle cx="870.2" cy="179.6" r="2.69"/>
<circle cx="867.2" cy="169.1" r="2.69"/>
<circle cx="859.8" cy="164.2" r="2.69"/>
<circle cx="855.6" cy="157.2" r="2.69"/>
<circle cx="848.2" cy="150.9" r="2.69"/>
<circle cx="848.6" cy="143.3" r="2.69"/>
<circle cx="839.1" cy="140.3" r="2.69"/>
<circle cx="833.2" cy="136.8" r="2.69"/>
<circle cx="826.0" cy="129.5" r="2.69"/>
<circle cx="819.2" cy="123.9" r="2.69"/>
<circle cx="811.2" cy="119.6" r="2.69"/>
<circle cx="802.0" cy="118.7" r="2.69"/>
<circle cx="795.8" cy="115.3" r="2.69"/>
<circle cx="786.6" cy="113.4" r="2.69"/>
<circle cx="780.3" cy="112.0" r="2.69"/>
<circle cx="768.6" cy="108.5" r="2.69"/>
<circle cx="760.5" cy="111.6" r="2.69"/>
<circle cx="753.8" cy="110.8" r="2.69"/>
<circle cx="746.2" cy="110.9" r="2.69"/>
<circle cx="735.9" cy="112.6" r="2.69"/>
<circle cx="726.0" cy="115.6" r="2.69"/>
<circle cx="718.5" cy="116.5" r="2.69"/>
<circle cx="709.6" cy="118.1" r="2.69"/>
<circle cx="705.3" cy="124.8" r="2.69"/>
<circle cx="695.7" cy="126.3" r="2.69"/>
<circle cx="688.6" cy="130.5" r="2.69"/>
<circle cx="679.6" cy="134.4" r="2.69"/>
<circle cx="671.0" cy="142.6" r="2.69"/>
<circle cx="666.9" cy="147.1" r="2.69"/>
<circle cx="661.2" cy="154.6" r="2.69"/>
<circle cx="653.3" cy="163.3" r="2.69"/>
<circle cx="646.6" cy="170.2" r="2.69"/>
<circle cx="643.1" cy="179.8" r="2.69"/>
<circle cx="636.0" cy="187.0" r="2.69"/>
<circle cx="633.5" cy="194.6" r="2.69"/>
<circle cx="627.3" cy="203.7" r="2.69"/>
<circle cx="623.6" cy="212.7" r="2.69"/>
<circle cx="623.4" cy="224.1" r="2.69"/>
<circle cx="620.8" cy="232.9" r="2.69"/>
<circle cx="621.8" cy="242.1" r="2.69"/>
<circle cx="617.3" cy="254.2" r="2.69"/>
</g><g fill="#0000ff">
<circle cx="786.5" cy="250.1" r="2.69"/>
<circle cx="783.7" cy="253.4" r="2.69"/>
<circle cx="785.0" cy="248.3" r="2.69"/>
<circle cx="786.1" cy="247.2" r="2.69"/>
<circle cx="784.7" cy="247.5" r="2.69"/>
<circle cx="786.3" cy="248.0" r="2.69"/>
<circle cx="786.5" cy="245.8" r="2.69"/>
<circle cx="783.8" cy="245.1" r="2.69"/>
<circle cx="788.3" cy="241.6" r="2.69"/>
<circle cx="787.5" cy="240.5" r="2.69"/>
<circle cx="785.4" cy="237.3" r="2.69"/>
<circle cx="785.8" cy="237.0" r="2.69"/>
<circle cx="786.4" cy="236.8" r="2.69"/>
<circle cx="784.6" cy="233.8" r="2.69"/>
<circle cx="783.9" cy="233.4" r="2.69"/>
<circle cx="781.2" cy="230.2" r="2.69"/>
<circle cx="783.4" cy="228.6" r="2.69"/>
<circle cx="781.6" cy="228.1" r="2.69"/>
<circle cx="780.7" cy="226.2" r="2.69"/>
<circle cx="776.5" cy="226.1" r="2.69"/>
<circle cx="780.1" cy="224.1" r="2.69"/>
<circle cx="776.1" cy="225.4" r="2.69"/>
<circle cx="773.6" cy="221.1" r="2.69"/>
<circle cx="775.6" cy="220.1" r="2.69"/>
<circle cx="770.4" cy="217.9" r="2.69"/>
<circle cx="766.2" cy="218.8" r="2.69"/>
<circle cx="765.8" cy="219.2" r="2.69"/>
<circle cx="760.6" cy="216.5" r="2.69"/>
<circle cx="763.7" cy="217.2" r="2.69"/>
<circle cx="759.1" cy="218.3" r="2.69"/>
<circle cx="756.3" cy="216.9" r="2.69"/>
<circle cx="756.8" cy="216.4" r="2.69"/>
<circle cx="750.1" cy="219.2" r="2.69"/>
<circle cx="751.2" cy="218.3" r="2.69"/>
<circle cx="744.6" cy="219.4" r="2.69"/>
<circle cx="744.5" cy="221.6" r="2.69"/>
<circle cx="741.2" cy="222.6" r="2.69"/>
<circle cx="743.2" cy="221.5" r="2.69"/>
<circle cx="741.4" cy="222.6" r="2.69"/>
<circle cx="735.8" cy="225.5" r="2.69"/>
<circle cx="735.5" cy="226.7" r="2.69"/>
<circle cx="731.8" cy="225.8" r="2.69"/>
<circle cx="731.1" cy="233.1" r="2.69"/>
<circle cx="727.1" cy="233.4" r="2.69"/>
<circle cx="723.9" cy="237.0" r="2.69"/>
<circle cx="722.2" cy="236.6" r="2.69"/>
<circle cx="724.2" cy="243.3" r="2.69"/>
<circle cx="725.9" cy="243.2" r="2.69"/>
<circle cx="721.7" cy="247.0" r="2.69"/>
<circle cx="719.5" cy="248.1" r="2.69"/>
<circle cx="722.6" cy="253.4" r="2.69"/>
<circle cx="719.4" cy="256.6" r="2.69"/>
<circle cx="718.9" cy="260.1" r="2.69"/>
<circle cx="719.0" cy="264.6" r="2.69"/>
<circle cx="718.5" cy="267.5" r="2.69"/>
<circle cx="718.5" cy="272.5" r="2.69"/>
<circle cx="717.3" cy="273.8" r="2.69"/>
<circle cx="721.2" cy="276.5" r="2.69"/>
<circle cx="721.2" cy="281.6" r="2.69"/>
<circle cx="724.5" cy="286.1" r="2.69"/>
<circle cx="723.5" cy="290.6" r="2.69"/>
<circle cx="722.7" cy="293.3" r="2.69"/>
<circle cx="727.5" cy="292.5" r="2.69"/>
<circle cx="732.6" cy="299.1" r="2.69"/>
<circle cx="731.6" cy="303.9" r="2.69"/>
<circle cx="733.4" cy="304.6" r="2.69"/>
<circle cx="735.7" cy="306.5" r="2.69"/>
<circle cx="738.9" cy="310.4" r="2.69"/>
<circle cx="743.3" cy="311.5" r="2.69"/>
<circle cx="745.2" cy="315.6" r="2.69"/>
<circle cx="753.1" cy="316.6" r="2.69"/>
<circle cx="753.9" cy="320.6" r="2.69"/>
<circle cx="758.3" cy="320.7" r="2.69"/>
<circle cx="764.4" cy="320.1" r="2.69"/>
<circle cx="768.6" cy="323.2" r="2.69"/>
<circle cx="770.0" cy="324.5" r="2.69"/>
<circle cx="775.1" cy="322.6" r="2.69"/>
<circle cx="780.0" cy="323.0" r="2.69"/>
<circle cx="782.9" cy="319.9" r="2.69"/>
<circle cx="784.7" cy="324.6" r="2.69"/>
<circle cx="793.0" cy="321.5" r="2.69"/>
<circle cx="797.7" cy="318.0" r="2.69"/>
<circle cx="801.3" cy="317.3" r="2.69"/>
<circle cx="803.5" cy="318.1" r="2.69"/>
<circle cx="808.8" cy="317.7" r="2.69"/>
<circle cx="812.3" cy="314.1" r="2.69"/>
<circle cx="816.8" cy="312.4" r="2.69"/>
<circle cx="823.3" cy="307.1" r="2.69"/>
<circle cx="827.4" cy="303.5" r="2.69"/>
<circle cx="829.6" cy="303.7" r="2.69"/>
<circle cx="832.8" cy="299.4" r="2.69"/>
<circle cx="836.2" cy="294.6" r="2.69"/>
<circle cx="838.0" cy="292.5" r="2.69"/>
<circle cx="840.7" cy="284.5" r="2.69"/>
<circle cx="842.2" cy="280.7" r="2.69"/>
<circle cx="845.4" cy="278.2" r="2.69"/>
<circle cx="851.0" cy="274.5" r="2.69"/>
<circle cx="850.4" cy="266.4" r="2.69"/>
<circle cx="849.8" cy="263.7" r="2.69"/>
<circle cx="850.6" cy="254.6" r="2.69"/>
<circle cx="850.7" cy="250.5" r="2.69"/>
<circle cx="853.0" cy="244.1" r="2.69"/>
<circle cx="853.0" cy="236.1" r="2.69"/>
<circle cx="849.8" cy="233.4" r="2.69"/>
<circle cx="852.2" cy="228.7" r="2.69"/>
<circle cx="849.4" cy="221.3" r="2.69"/>
<circle cx="851.2" cy="215.7" r="2.69"/>
<circle cx="847.4" cy="212.4" r="2.69"/>
<circle cx="847.8" cy="202.7" r="2.69"/>
<circle cx="841.9" cy="196.8" r="2.69"/>
<circle cx="839.4" cy="192.9" r="2.69"/>
<circle cx="837.2" cy="186.9" r="2.69"/>
<circle cx="834.9" cy="186.1" r="2.69"/>
<circle cx="830.4" cy="179.7" r="2.69"/>
<circle cx="823.4" cy="173.3" r="2.69"/>
<circle cx="821.3" cy="169.5" r="2.69"/>
<circle cx="816.4" cy="171.1" r="2.69"/>
<circle cx="810.7" cy="161.9" r="2.69"/>
<circle cx="805.2" cy="158.3" r="2.69"/>
<circle cx="803.6" cy="157.0" r="2.69"/>
<circle cx="794.6" cy="154.9" r="2.69"/>
<circle cx="788.1" cy="151.9" r="2.69"/>
<circle cx="784.5" cy="148.2" r="2.69"/>
<circle cx="777.5" cy="146.3" r="2.69"/>
<circle cx="771.0" cy="148.1" r="2.69"/>
<circle cx="766.0" cy="146.3" r="2.69"/>
<circle cx="759.2" cy="143.6" r="2.69"/>
<circle cx="752.5" cy="148.3" r="2.69"/>
<circle cx="747.0" cy="148.2" r="2.69"/>
<circle cx="739.5" cy="147.7" r="2.69"/>
<circle cx="731.6" cy="149.2" r="2.69"/>
<circle cx="725.7" cy="151.9" r="2.69"/>
<circle cx="719.2" cy="152.9" r="2.69"/>
<circle cx="714.2" cy="154.6" r="2.69"/>
<circle cx="706.2" cy="160.6" r="2.69"/>
<circle cx="699.1" cy="161.4" r="2.69"/>
<circle cx="696.6" cy="168.5" r="2.69"/>
<circle cx="688.9" cy="170.0" r="2.69"/>
<circle cx="682.8" cy="177.1" r="2.69"/>
<circle cx="681.6" cy="182.3" r="2.69"/>
<circle cx="675.3" cy="191.0" r="2.69"/>
<circle cx="673.0" cy="192.3" r="2.69"/>
<circle cx="667.4" cy="198.0" r="2.69"/>
<circle cx="662.9" cy="205.8" r="2.69"/>
<circle cx="659.5" cy="211.9" r="2.69"/>
<circle cx="657.9" cy="219.8" r="2.69"/>
<circle cx="655.9" cy="228.7" r="2.69"/>
<circle cx="653.1" cy="236.7" r="2.69"/>
<circle cx="652.5" cy="245.7" r="2.69"/>
<circle cx="649.5" cy="249.7" r="2.69"/>
<circle cx="651.4" cy="262.9" r="2.69"/>
<circle cx="648.4" cy="269.8" r="2.69"/>
<circle cx="651.3" cy="274.2" r="2.69"/>
<circle cx="653.6" cy="278.9" r="2.69"/>
<circle cx="655.6" cy="290.3" r="2.69"/>
<circle cx="658.4" cy="298.4" r="2.69"/>
<circle cx="655.5" cy="302.4" r="2.69"/>
<circle cx="662.0" cy="313.9" r="2.69"/>
<circle cx="666.0" cy="320.9" r="2.69"/>
<circle cx="669.4" cy="327.2" r="2.69"/>
<circle cx="670.5" cy="336.6" r="2.69"/>
<circle cx="677.2" cy="344.0" r="2.69"/>
<circle cx="684.6" cy="348.1" r="2.69"/>
<circle cx="684.7" cy="355.4" r="2.69"/>
<circle cx="693.7" cy="359.8" r="2.69"/>
<circle cx="700.9" cy="365.1" r="2.69"/>
<circle cx="704.6" cy="371.6" r="2.69"/>
<circle cx="713.5" cy="376.9" r="2.69"/>
<circle cx="718.1" cy="379.3" r="2.69"/>
<circle cx="726.0" cy="380.4" r="2.69"/>
<circle cx="733.7" cy="388.1" r="2.69"/>
<circle cx="743.2" cy="387.3" r="2.69"/>
<circle cx="750.9" cy="392.2" r="2.69"/>
<circle cx="760.8" cy="396.5" r="2.69"/>
<circle cx="766.2" cy="394.7" r="2.69"/>
<circle cx="776.0" cy="393.4" r="2.69"/>
<circle cx="786.3" cy="392.9" r="2.69"/>
<circle cx="794.2" cy="396.4" r="2.69"/>
<circle cx="799.7" cy="393.3" r="2.69"/>
<circle cx="811.4" cy="392.4" r="2.69"/>
<circle cx="818.0" cy="390.6" r="2.69"/>
<circle cx="827.7" cy="386.1" r="2.69"/>
<circle cx="835.7" cy="382.2" r="2.69"/>
<circle cx="845.2" cy="377.0" r="2.69"/>
<circle cx="851.1" cy="369.0" r="2.69"/>
<circle cx="855.5" cy="366.3" r="2.69"/>
<circle cx="863.4" cy="362.9" r="2.69"/>
<circle cx="873.6" cy="356.6" r="2.69"/>
<circle cx="878.6" cy="350.8" r="2.69"/>
<circle cx="886.9" cy="342.8" r="2.69"/>
<circle cx="891.3" cy="335.7" r="2.69"/>
<circle cx="894.9" cy="328.7" r="2.69"/>
<circle cx="902.6" cy="317.7" r="2.69"/>
<circle cx="903.9" cy="309.9" r="2.69"/>
<circle cx="905.8" cy="298.8" r="2.69"/>
<circle cx="915.6" cy="293.6" r="2.69"/>
<circle cx="912.0" cy="282.6" r="2.69"/>
<circle cx="918.2" cy="273.6" r="2.69"/>
<circle cx="920.3" cy="265.3" r="2.69"/>
<circle cx="920.0" cy="254.5" r="2.69"/>
</g></g>
<g stroke="#fff" stroke-width="0.69">
<g fill="#ff0000">
<circle cx="1153.3" cy="252.8" r="2.69"/>
<circle cx="1154.0" cy="252.0" r="2.69"/>
<circle cx="1149.8" cy="252.0" r="2.69"/>
<circle cx="1152.3" cy="253.4" r="2.69"/>
<circle cx="1151.4" cy="258.2" r="2.69"/>
<circle cx="1148.3" cy="257.0" r="2.69"/>
<circle cx="1152.8" cy="262.1" r="2.69"/>
<circle cx="1149.4" cy="264.0" r="2.69"/>
<circle cx="1151.5" cy="262.8" r="2.69"/>
<circle cx="1149.9" cy="267.5" r="2.69"/>
<circle cx="1152.3" cy="266.8" r="2.69"/>
<circle cx="1153.2" cy="269.9" r="2.69"/>
<circle cx="1150.2" cy="269.3" r="2.69"/>
<circle cx="1149.6" cy="272.9" r="2.69"/>
<circle cx="1152.6" cy="271.4" r="2.69"/>
<circle cx="1155.0" cy="275.5" r="2.69"/>
<circle cx="1154.0" cy="275.4" r="2.69"/>
<circle cx="1154.7" cy="277.4" r="2.69"/>
<circle cx="1157.7" cy="280.1" r="2.69"/>
<circle cx="1153.8" cy="280.7" r="2.69"/>
<circle cx="1158.6" cy="281.6" r="2.69"/>
<circle cx="1159.0" cy="284.2" r="2.69"/>
<circle cx="1163.4" cy="285.4" r="2.69"/>
<circle cx="1163.6" cy="282.9" r="2.69"/>
<circle cx="1164.8" cy="286.9" r="2.69"/>
<circle cx="1168.0" cy="287.9" r="2.69"/>
<circle cx="1168.3" cy="286.2" r="2.69"/>
<circle cx="1172.8" cy="288.6" r="2.69"/>
<circle cx="1174.0" cy="286.2" r="2.69"/>
<circle cx="1176.7" cy="290.8" r="2.69"/>
<circle cx="1178.5" cy="288.1" r="2.69"/>
<circle cx="1183.5" cy="288.2" r="2.69"/>
<circle cx="1184.2" cy="289.9" r="2.69"/>
<circle cx="1187.6" cy="287.3" r="2.69"/>
<circle cx="1190.0" cy="287.7" r="2.69"/>
<circle cx="1190.3" cy="284.2" r="2.69"/>
<circle cx="1194.9" cy="283.9" r="2.69"/>
<circle cx="1196.8" cy="281.4" r="2.69"/>
<circle cx="1199.1" cy="281.8" r="2.69"/>
<circle cx="1200.1" cy="282.2" r="2.69"/>
<circle cx="1202.2" cy="279.1" r="2.69"/>
<circle cx="1206.2" cy="278.1" r="2.69"/>
<circle cx="1210.4" cy="272.9" r="2.69"/>
<circle cx="1207.4" cy="270.8" r="2.69"/>
<circle cx="1211.3" cy="269.0" r="2.69"/>
<circle cx="1211.5" cy="268.0" r="2.69"/>
<circle cx="1214.8" cy="264.9" r="2.69"/>
<circle cx="1215.5" cy="261.4" r="2.69"/>
<circle cx="1217.6" cy="259.4" r="2.69"/>
<circle cx="1212.3" cy="255.0" r="2.69"/>
<circle cx="1216.6" cy="251.9" r="2.69"/>
<circle cx="1216.5" cy="250.7" r="2.69"/>
<circle cx="1218.2" cy="244.3" r="2.69"/>
<circle cx="1217.3" cy="242.0" r="2.69"/>
<circle cx="1217.4" cy="240.8" r="2.69"/>
<circle cx="1219.2" cy="234.8" r="2.69"/>
<circle cx="1220.6" cy="232.2" r="2.69"/>
<circle cx="1212.2" cy="226.6" r="2.69"/>
<circle cx="1215.3" cy="227.1" r="2.69"/>
<circle cx="1215.0" cy="216.9" r="2.69"/>
<circle cx="1213.0" cy="215.2" r="2.69"/>
<circle cx="1210.8" cy="211.9" r="2.69"/>
<circle cx="1207.2" cy="212.9" r="2.69"/>
<circle cx="1205.7" cy="207.7" r="2.69"/>
<circle cx="1206.0" cy="203.6" r="2.69"/>
<circle cx="1204.0" cy="199.0" r="2.69"/>
<circle cx="1199.7" cy="198.9" r="2.69"/>
<circle cx="1195.2" cy="195.9" r="2.69"/>
<circle cx="1193.5" cy="192.2" r="2.69"/>
<circle cx="1189.6" cy="188.6" r="2.69"/>
<circle cx="1187.3" cy="187.2" r="2.69"/>
<circle cx="1183.0" cy="187.6" r="2.69"/>
<circle cx="1178.0" cy="186.2" r="2.69"/>
<circle cx="1175.3" cy="184.5" r="2.69"/>
<circle cx="1169.1" cy="183.1" r="2.69"/>
<circle cx="1168.1" cy="179.8" r="2.69"/>
<circle cx="1164.4" cy="182.2" r="2.69"/>
<circle cx="1156.4" cy="180.3" r="2.69"/>
<circle cx="1154.6" cy="182.1" r="2.69"/>
<circle cx="1148.0" cy="183.2" r="2.69"/>
<circle cx="1146.9" cy="182.1" r="2.69"/>
<circle cx="1142.2" cy="182.5" r="2.69"/>
<circle cx="1136.1" cy="187.1" r="2.69"/>
<circle cx="1133.8" cy="187.7" r="2.69"/>
<circle cx="1127.3" cy="188.1" r="2.69"/>
<circle cx="1122.8" cy="186.6" r="2.69"/>
<circle cx="1118.9" cy="193.8" r="2.69"/>
<circle cx="1115.7" cy="197.8" r="2.69"/>
<circle cx="1111.7" cy="201.7" r="2.69"/>
<circle cx="1108.8" cy="202.2" r="2.69"/>
<circle cx="1104.2" cy="206.0" r="2.69"/>
<circle cx="1103.2" cy="210.3" r="2.69"/>
<circle cx="1100.7" cy="216.5" r="2.69"/>
<circle cx="1095.5" cy="217.7" r="2.69"/>
<circle cx="1091.6" cy="224.0" r="2.69"/>
<circle cx="1092.8" cy="227.6" r="2.69"/>
<circle cx="1091.5" cy="234.5" r="2.69"/>
<circle cx="1087.8" cy="236.8" r="2.69"/>
<circle cx="1084.7" cy="245.2" r="2.69"/>
<circle cx="1086.2" cy="249.2" r="2.69"/>
<circle cx="1087.5" cy="255.2" r="2.69"/>
<circle cx="1081.7" cy="262.1" r="2.69"/>
<circle cx="1085.5" cy="268.7" r="2.69"/>
<circle cx="1084.5" cy="269.9" r="2.69"/>
<circle cx="1084.4" cy="280.0" r="2.69"/>
<circle cx="1087.6" cy="285.0" r="2.69"/>
<circle cx="1086.1" cy="289.3" r="2.69"/>
<circle cx="1090.4" cy="297.7" r="2.69"/>
<circle cx="1094.1" cy="301.2" r="2.69"/>
<circle cx="1094.8" cy="308.4" r="2.69"/>
<circle cx="1095.9" cy="310.7" r="2.69"/>
<circle cx="1097.6" cy="315.4" r="2.69"/>
<circle cx="1101.8" cy="323.6" r="2.69"/>
<circle cx="1104.7" cy="329.9" r="2.69"/>
<circle cx="1114.3" cy="331.9" r="2.69"/>
<circle cx="1115.7" cy="336.6" r="2.69"/>
<circle cx="1119.1" cy="338.3" r="2.69"/>
<circle cx="1123.6" cy="340.6" r="2.69"/>
<circle cx="1129.2" cy="345.7" r="2.69"/>
<circle cx="1135.8" cy="351.5" r="2.69"/>
<circle cx="1139.8" cy="348.8" r="2.69"/>
<circle cx="1150.4" cy="353.2" r="2.69"/>
<circle cx="1152.5" cy="352.8" r="2.69"/>
<circle cx="1158.5" cy="357.6" r="2.69"/>
<circle cx="1166.5" cy="359.9" r="2.69"/>
<circle cx="1174.6" cy="357.2" r="2.69"/>
<circle cx="1180.8" cy="358.8" r="2.69"/>
<circle cx="1184.4" cy="361.3" r="2.69"/>
<circle cx="1192.0" cy="358.5" r="2.69"/>
<circle cx="1198.3" cy="355.5" r="2.69"/>
<circle cx="1205.3" cy="353.9" r="2.69"/>
<circle cx="1211.2" cy="350.8" r="2.69"/>
<circle cx="1215.6" cy="352.9" r="2.69"/>
<circle cx="1221.2" cy="347.6" r="2.69"/>
<circle cx="1229.5" cy="347.2" r="2.69"/>
<circle cx="1233.2" cy="343.2" r="2.69"/>
<circle cx="1242.9" cy="336.7" r="2.69"/>
<circle cx="1246.1" cy="332.4" r="2.69"/>
<circle cx="1249.6" cy="329.6" r="2.69"/>
<circle cx="1255.6" cy="323.3" r="2.69"/>
<circle cx="1259.9" cy="317.9" r="2.69"/>
<circle cx="1264.7" cy="308.9" r="2.69"/>
<circle cx="1270.4" cy="306.7" r="2.69"/>
<circle cx="1270.1" cy="297.3" r="2.69"/>
<circle cx="1272.6" cy="288.3" r="2.69"/>
<circle cx="1278.9" cy="283.9" r="2.69"/>
<circle cx="1280.4" cy="278.3" r="2.69"/>
<circle cx="1282.9" cy="273.5" r="2.69"/>
<circle cx="1284.9" cy="261.9" r="2.69"/>
<circle cx="1284.9" cy="252.6" r="2.69"/>
<circle cx="1287.0" cy="250.3" r="2.69"/>
<circle cx="1284.4" cy="239.2" r="2.69"/>
<circle cx="1285.6" cy="230.6" r="2.69"/>
<circle cx="1283.3" cy="221.3" r="2.69"/>
<circle cx="1281.4" cy="213.5" r="2.69"/>
<circle cx="1282.4" cy="209.6" r="2.69"/>
<circle cx="1280.0" cy="199.1" r="2.69"/>
<circle cx="1273.2" cy="191.0" r="2.69"/>
<circle cx="1271.2" cy="183.6" r="2.69"/>
<circle cx="1269.8" cy="179.6" r="2.69"/>
<circle cx="1266.9" cy="169.1" r="2.69"/>
<circle cx="1259.5" cy="164.2" r="2.69"/>
<circle cx="1255.2" cy="157.2" r="2.69"/>
<circle cx="1247.8" cy="150.9" r="2.69"/>
<circle cx="1248.2" cy="143.3" r="2.69"/>
<circle cx="1238.7" cy="140.3" r="2.69"/>
<circle cx="1232.8" cy="136.8" r="2.69"/>
<circle cx="1225.6" cy="129.5" r="2.69"/>
<circle cx="1218.8" cy="123.9" r="2.69"/>
<circle cx="1210.8" cy="119.6" r="2.69"/>
<circle cx="1201.6" cy="118.7" r="2.69"/>
<circle cx="1195.4" cy="115.3" r="2.69"/>
<circle cx="1186.2" cy="113.4" r="2.69"/>
<circle cx="1179.9" cy="112.0" r="2.69"/>
<circle cx="1168.2" cy="108.5" r="2.69"/>
<circle cx="1160.1" cy="111.6" r="2.69"/>
<circle cx="1153.4" cy="110.8" r="2.69"/>
<circle cx="1145.9" cy="110.9" r="2.69"/>
<circle cx="1135.5" cy="112.6" r="2.69"/>
<circle cx="1125.6" cy="115.6" r="2.69"/>
<circle cx="1118.1" cy="116.5" r="2.69"/>
<circle cx="1109.2" cy="118.1" r="2.69"/>
<circle cx="1104.9" cy="124.8" r="2.69"/>
<circle cx="1095.3" cy="126.3" r="2.69"/>
<circle cx="1088.2" cy="130.5" r="2.69"/>
<circle cx="1079.2" cy="134.4" r="2.69"/>
<circle cx="1070.6" cy="142.6" r="2.69"/>
<circle cx="1066.5" cy="147.1" r="2.69"/>
<circle cx="1060.8" cy="154.6" r="2.69"/>
<circle cx="1052.9" cy="163.3" r="2.69"/>
<circle cx="1046.2" cy="170.2" r="2.69"/>
<circle cx="1042.7" cy="179.8" r="2.69"/>
<circle cx="1035.6" cy="187.0" r="2.69"/>
<circle cx="1033.1" cy="194.6" r="2.69"/>
<circle cx="1026.9" cy="203.7" r="2.69"/>
<circle cx="1023.2" cy="212.7" r="2.69"/>
<circle cx="1023.0" cy="224.1" r="2.69"/>
<circle cx="1020.5" cy="232.9" r="2.69"/>
<circle cx="1021.4" cy="242.1" r="2.69"/>
<circle cx="1016.9" cy="254.2" r="2.69"/>
</g><g fill="#0000ff">
<circle cx="1186.1" cy="250.1" r="2.69"/>
<circle cx="1183.3" cy="253.4" r="2.69"/>
<circle cx="1184.6" cy="248.3" r="2.69"/>
<circle cx="1185.8" cy="247.2" r="2.69"/>
<circle cx="1184.3" cy="247.5" r="2.69"/>
<circle cx="1185.9" cy="248.0" r="2.69"/>
<circle cx="1186.1" cy="245.8" r="2.69"/>
<circle cx="1183.4" cy="245.1" r="2.69"/>
<circle cx="1187.9" cy="241.6" r="2.69"/>
<circle cx="1187.1" cy="240.5" r="2.69"/>
<circle cx="1185.0" cy="237.3" r="2.69"/>
<circle cx="1185.4" cy="237.0" r="2.69"/>
<circle cx="1186.0" cy="236.8" r="2.69"/>
<circle cx="1184.2" cy="233.8" r="2.69"/>
<circle cx="1183.5" cy="233.4" r="2.69"/>
<circle cx="1180.8" cy="230.2" r="2.69"/>
<circle cx="1183.0" cy="228.6" r="2.69"/>
<circle cx="1181.3" cy="228.1" r="2.69"/>
<circle cx="1180.3" cy="226.2" r="2.69"/>
<circle cx="1176.1" cy="226.1" r="2.69"/>
<circle cx="1179.7" cy="224.1" r="2.69"/>
<circle cx="1175.7" cy="225.4" r="2.69"/>
<circle cx="1173.2" cy="221.1" r="2.69"/>
<circle cx="1175.2" cy="220.1" r="2.69"/>
<circle cx="1170.0" cy="217.9" r="2.69"/>
<circle cx="1165.8" cy="218.8" r="2.69"/>
<circle cx="1165.4" cy="219.2" r="2.69"/>
<circle cx="1160.2" cy="216.5" r="2.69"/>
<circle cx="1163.3" cy="217.2" r="2.69"/>
<circle cx="1158.7" cy="218.3" r="2.69"/>
<circle cx="1155.9" cy="216.9" r="2.69"/>
<circle cx="1156.4" cy="216.4" r="2.69"/>
<circle cx="1149.7" cy="219.2" r="2.69"/>
<circle cx="1150.8" cy="218.3" r="2.69"/>
<circle cx="1144.2" cy="219.4" r="2.69"/>
<circle cx="1144.1" cy="221.6" r="2.69"/>
<circle cx="1140.8" cy="222.6" r="2.69"/>
<circle cx="1142.8" cy="221.5" r="2.69"/>
<circle cx="1141.0" cy="222.6" r="2.69"/>
<circle cx="1135.4" cy="225.5" r="2.69"/>
<circle cx="1135.1" cy="226.7" r="2.69"/>
<circle cx="1131.5" cy="225.8" r="2.69"/>
<circle cx="1130.7" cy="233.1" r="2.69"/>
<circle cx="1126.7" cy="233.4" r="2.69"/>
<circle cx="1123.5" cy="237.0" r="2.69"/>
<circle cx="1121.8" cy="236.6" r="2.69"/>
<circle cx="1123.8" cy="243.3" r="2.69"/>
<circle cx="1125.5" cy="243.2" r="2.69"/>
<circle cx="1121.3" cy="247.0" r="2.69"/>
<circle cx="1119.1" cy="248.1" r="2.69"/>
<circle cx="1122.3" cy="253.4" r="2.69"/>
<circle cx="1119.0" cy="256.6" r="2.69"/>
<circle cx="1118.5" cy="260.1" r="2.69"/>
<circle cx="1118.6" cy="264.6" r="2.69"/>
<circle cx="1118.1" cy="267.5" r="2.69"/>
<circle cx="1118.1" cy="272.5" r="2.69"/>
<circle cx="1116.9" cy="273.8" r="2.69"/>
<circle cx="1120.8" cy="276.5" r="2.69"/>
<circle cx="1120.8" cy="281.6" r="2.69"/>
<circle cx="1124.1" cy="286.1" r="2.69"/>
<circle cx="1123.1" cy="290.6" r="2.69"/>
<circle cx="1122.3" cy="293.3" r="2.69"/>
<circle cx="1127.2" cy="292.5" r="2.69"/>
<circle cx="1132.2" cy="299.1" r="2.69"/>
<circle cx="1131.2" cy="303.9" r="2.69"/>
<circle cx="1133.0" cy="304.6" r="2.69"/>
<circle cx="1135.3" cy="306.5" r="2.69"/>
<circle cx="1138.5" cy="310.4" r="2.69"/>
<circle cx="1142.9" cy="311.5" r="2.69"/>
<circle cx="1144.9" cy="315.6" r="2.69"/>
<circle cx="1152.7" cy="316.6" r="2.69"/>
<circle cx="1153.5" cy="320.6" r="2.69"/>
<circle cx="1157.9" cy="320.7" r="2.69"/>
<circle cx="1164.0" cy="320.1" r="2.69"/>
<circle cx="1168.2" cy="323.2" r="2.69"/>
<circle cx="1169.6" cy="324.5" r="2.69"/>
<circle cx="1174.7" cy="322.6" r="2.69"/>
<circle cx="1179.6" cy="323.0" r="2.69"/>
<circle cx="1182.5" cy="319.9" r="2.69"/>
<circle cx="1184.3" cy="324.6" r="2.69"/>
<circle cx="1192.6" cy="321.5" r="2.69"/>
<circle cx="1197.4" cy="318.0" r="2.69"/>
<circle cx="1200.9" cy="317.3" r="2.69"/>
<circle cx="1203.1" cy="318.1" r="2.69"/>
<circle cx="1208.5" cy="317.7" r="2.69"/>
<circle cx="1211.9" cy="314.1" r="2.69"/>
<circle cx="1216.4" cy="312.4" r="2.69"/>
<circle cx="1222.9" cy="307.1" r="2.69"/>
<circle cx="1227.0" cy="303.5" r="2.69"/>
<circle cx="1229.2" cy="303.7" r="2.69"/>
<circle cx="1232.4" cy="299.4" r="2.69"/>
<circle cx="1235.8" cy="294.6" r="2.69"/>
<circle cx="1237.6" cy="292.5" r="2.69"/>
<circle cx="1240.3" cy="284.5" r="2.69"/>
<circle cx="1241.8" cy="280.7" r="2.69"/>
<circle cx="1245.0" cy="278.2" r="2.69"/>
<circle cx="1250.6" cy="274.5" r="2.69"/>
<circle cx="1250.0" cy="266.4" r="2.69"/>
<circle cx="1249.4" cy="263.7" r="2.69"/>
<circle cx="1250.2" cy="254.6" r="2.69"/>
<circle cx="1250.3" cy="250.5" r="2.69"/>
<circle cx="1252.6" cy="244.1" r="2.69"/>
<circle cx="1252.6" cy="236.1" r="2.69"/>
<circle cx="1249.4" cy="233.4" r="2.69"/>
<circle cx="1251.8" cy="228.7" r="2.69"/>
<circle cx="1249.0" cy="221.3" r="2.69"/>
<circle cx="1250.8" cy="215.7" r="2.69"/>
<circle cx="1247.0" cy="212.4" r="2.69"/>
<circle cx="1247.4" cy="202.7" r="2.69"/>
<circle cx="1241.5" cy="196.8" r="2.69"/>
<circle cx="1239.0" cy="192.9" r="2.69"/>
<circle cx="1236.8" cy="186.9" r="2.69"/>
<circle cx="1234.5" cy="186.1" r="2.69"/>
<circle cx="1230.0" cy="179.7" r="2.69"/>
<circle cx="1223.0" cy="173.3" r="2.69"/>
<circle cx="1220.9" cy="169.5" r="2.69"/>
<circle cx="1216.0" cy="171.1" r="2.69"/>
<circle cx="1210.3" cy="161.9" r="2.69"/>
<circle cx="1204.8" cy="158.3" r="2.69"/>
<circle cx="1203.2" cy="157.0" r="2.69"/>
<circle cx="1194.2" cy="154.9" r="2.69"/>
<circle cx="1187.7" cy="151.9" r="2.69"/>
<circle cx="1184.1" cy="148.2" r="2.69"/>
<circle cx="1177.2" cy="146.3" r="2.69"/>
<circle cx="1170.6" cy="148.1" r="2.69"/>
<circle cx="1165.6" cy="146.3" r="2.69"/>
<circle cx="1158.8" cy="143.6" r="2.69"/>
<circle cx="1152.1" cy="148.3" r="2.69"/>
<circle cx="1146.6" cy="148.2" r="2.69"/>
<circle cx="1139.1" cy="147.7" r="2.69"/>
<circle cx="1131.3" cy="149.2" r="2.69"/>
<circle cx="1125.3" cy="151.9" r="2.69"/>
<circle cx="1118.8" cy="152.9" r="2.69"/>
<circle cx="1113.8" cy="154.6" r="2.69"/>
<circle cx="1105.8" cy="160.6" r="2.69"/>
<circle cx="1098.7" cy="161.4" r="2.69"/>
<circle cx="1096.2" cy="168.5" r="2.69"/>
<circle cx="1088.5" cy="170.0" r="2.69"/>
<circle cx="1082.4" cy="177.1" r="2.69"/>
<circle cx="1081.2" cy="182.3" r="2.69"/>
<circle cx="1074.9" cy="191.0" r="2.69"/>
<circle cx="1072.6" cy="192.3" r="2.69"/>
<circle cx="1067.0" cy="198.0" r="2.69"/>
<circle cx="1062.5" cy="205.8" r="2.69"/>
<circle cx="1059.1" cy="211.9" r="2.69"/>
<circle cx="1057.5" cy="219.8" r="2.69"/>
<circle cx="1055.6" cy="228.7" r="2.69"/>
<circle cx="1052.7" cy="236.7" r="2.69"/>
<circle cx="1052.1" cy="245.7" r="2.69"/>
<circle cx="1049.1" cy="249.7" r="2.69"/>
<circle cx="1051.0" cy="262.9" r="2.69"/>
<circle cx="1048.0" cy="269.8" r="2.69"/>
<circle cx="1051.0" cy="274.2" r="2.69"/>
<circle cx="1053.2" cy="278.9" r="2.69"/>
<circle cx="1055.2" cy="290.3" r="2.69"/>
<circle cx="1058.1" cy="298.4" r="2.69"/>
<circle cx="1055.1" cy="302.4" r="2.69"/>
<circle cx="1061.6" cy="313.9" r="2.69"/>
<circle cx="1065.6" cy="320.9" r="2.69"/>
<circle cx="1069.0" cy="327.2" r="2.69"/>
<circle cx="1070.1" cy="336.6" r="2.69"/>
<circle cx="1076.9" cy="344.0" r="2.69"/>
<circle cx="1084.2" cy="348.1" r="2.69"/>
<circle cx="1084.3" cy="355.4" r="2.69"/>
<circle cx="1093.3" cy="359.8" r="2.69"/>
<circle cx="1100.5" cy="365.1" r="2.69"/>
<circle cx="1104.2" cy="371.6" r="2.69"/>
<circle cx="1113.1" cy="376.9" r="2.69"/>
<circle cx="1117.7" cy="379.3" r="2.69"/>
<circle cx="1125.6" cy="380.4" r="2.69"/>
<circle cx="1133.3" cy="388.1" r="2.69"/>
<circle cx="1142.8" cy="387.3" r="2.69"/>
<circle cx="1150.5" cy="392.2" r="2.69"/>
<circle cx="1160.4" cy="396.5" r="2.69"/>
<circle cx="1165.8" cy="394.7" r="2.69"/>
<circle cx="1175.6" cy="393.4" r="2.69"/>
<circle cx="1185.9" cy="392.9" r="2.69"/>
<circle cx="1193.8" cy="396.4" r="2.69"/>
<circle cx="1199.3" cy="393.3" r="2.69"/>
<circle cx="1211.0" cy="392.4" r="2.69"/>
<circle cx="1217.6" cy="390.6" r="2.69"/>
<circle cx="1227.3" cy="386.1" r="2.69"/>
<circle cx="1235.3" cy="382.2" r="2.69"/>
<circle cx="1244.8" cy="377.0" r="2.69"/>
<circle cx="1250.7" cy="369.0" r="2.69"/>
<circle cx="1255.1" cy="366.3" r="2.69"/>
<circle cx="1263.0" cy="362.9" r="2.69"/>
<circle cx="1273.3" cy="356.6" r="2.69"/>
<circle cx="1278.2" cy="350.8" r="2.69"/>
<circle cx="1286.5" cy="342.8" r="2.69"/>
<circle cx="1290.9" cy="335.7" r="2.69"/>
<circle cx="1294.5" cy="328.7" r="2.69"/>
<circle cx="1302.3" cy="317.7" r="2.69"/>
<circle cx="1303.5" cy="309.9" r="2.69"/>
<circle cx="1305.4" cy="298.8" r="2.69"/>
<circle cx="1315.2" cy="293.6" r="2.69"/>
<circle cx="1311.6" cy="282.6" r="2.69"/>
<circle cx="1317.8" cy="273.6" r="2.69"/>
<circle cx="1319.9" cy="265.3" r="2.69"/>
<circle cx="1319.6" cy="254.5" r="2.69"/>
</g></g>
<rect x="197.2" y="412.2" width="79.8" height="25.6" fill="#000" fill-opacity="0.6"/>
<text x="202.3" y="429" font-size="13.89" fill="#fff">Epoch: 25</text>
<text x="369.1" y="24.6" font-size="16.67" fill="#fff" text-anchor="middle">SGD + Momentum</text>
<text x="369.1" y="45.4" font-size="16.67" fill="#fff" text-anchor="middle">(с backprop)</text>
<rect x="596.8" y="412.2" width="79.8" height="25.6" fill="#000" fill-opacity="0.6"/>
<text x="601.9" y="429" font-size="13.89" fill="#fff">Epoch: 25</text>
<text x="768.8" y="24.6" font-size="16.67" fill="#fff" text-anchor="middle">Физическая симуляция</text>
<text x="768.8" y="45.4" font-size="16.67" fill="#fff" text-anchor="middle">(конечные разности)</text>
<rect x="996.4" y="412.2" width="79.8" height="25.6" fill="#000" fill-opacity="0.6"/>
<text x="1001.5" y="429" font-size="13.89" fill="#fff">Epoch: 25</text>
<text x="1168.4" y="24.6" font-size="16.67" fill="#fff" text-anchor="middle">Случайный поиск</text>
<text x="1168.4" y="45.4" font-size="16.67" fill="#fff" text-anchor="middle">(без направления)</text>
</svg>
</body></html>
